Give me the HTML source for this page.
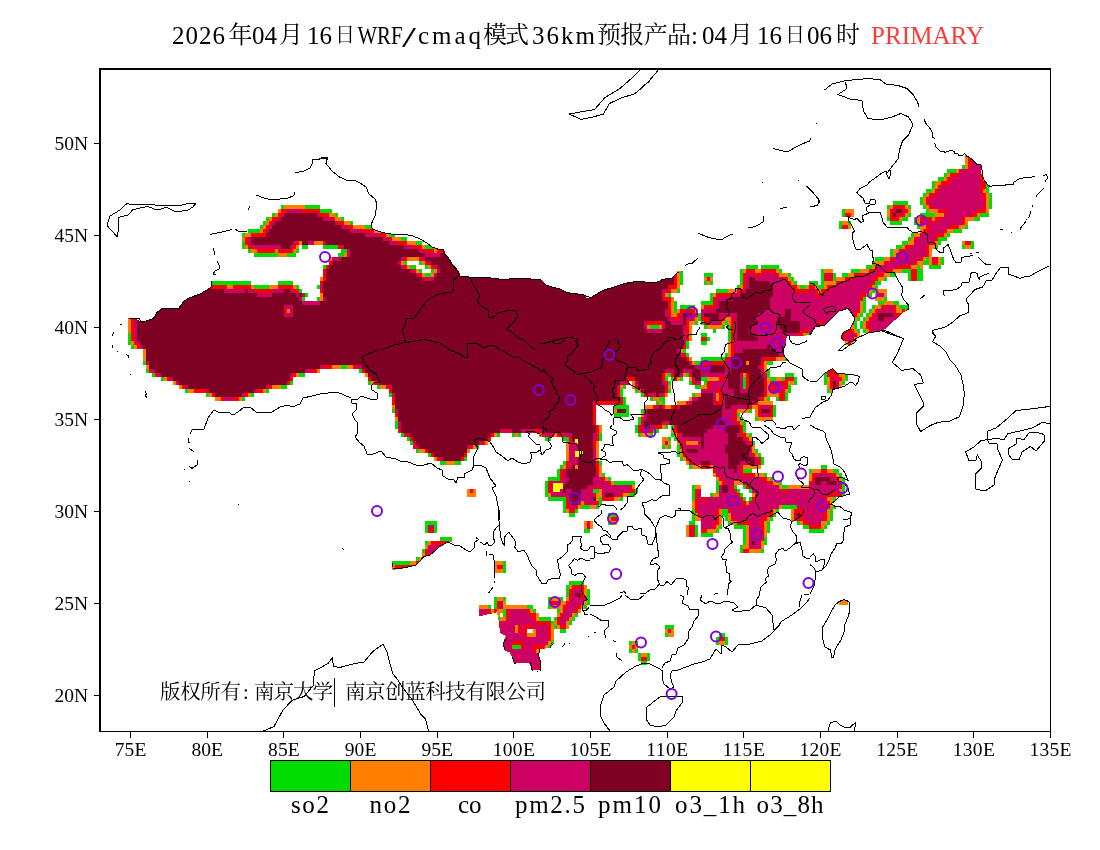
<!DOCTYPE html>
<html lang="zh"><head><meta charset="utf-8"><title>WRF/cmaq PRIMARY</title>
<style>
html,body{margin:0;padding:0;background:#fff;}
body{width:1100px;height:850px;overflow:hidden;}
svg{display:block;}
.lat,.cjk{font-family:"Liberation Serif","Noto Serif CJK SC",serif;}
</style></head><body>
<svg width="1100" height="850" viewBox="0 0 1100 850">
<rect width="1100" height="850" fill="#fff"/>
<defs>
<clipPath id="c0"><rect shape-rendering="crispEdges" x="590" y="255" width="110" height="85"/></clipPath>
<clipPath id="w0"><rect shape-rendering="crispEdges" x="586" y="251" width="118" height="93"/></clipPath>
<clipPath id="c1"><rect shape-rendering="crispEdges" x="590" y="340" width="110" height="85"/></clipPath>
<clipPath id="c2"><rect shape-rendering="crispEdges" x="590" y="425" width="110" height="85"/></clipPath>
<clipPath id="c3"><rect shape-rendering="crispEdges" x="590" y="510" width="110" height="85"/></clipPath>
<clipPath id="c4"><rect shape-rendering="crispEdges" x="700" y="255" width="110" height="85"/></clipPath>
<clipPath id="c5"><rect shape-rendering="crispEdges" x="700" y="340" width="110" height="85"/></clipPath>
<clipPath id="w5"><rect shape-rendering="crispEdges" x="696" y="336" width="118" height="93"/></clipPath>
<clipPath id="c6"><rect shape-rendering="crispEdges" x="700" y="425" width="110" height="85"/></clipPath>
<clipPath id="c7"><rect shape-rendering="crispEdges" x="700" y="510" width="110" height="85"/></clipPath>
<clipPath id="c8"><rect shape-rendering="crispEdges" x="810" y="170" width="110" height="85"/></clipPath>
<clipPath id="c9"><rect shape-rendering="crispEdges" x="810" y="255" width="110" height="85"/></clipPath>
<clipPath id="w9"><rect shape-rendering="crispEdges" x="806" y="251" width="118" height="93"/></clipPath>
<clipPath id="c10"><rect shape-rendering="crispEdges" x="810" y="340" width="110" height="85"/></clipPath>
<clipPath id="w10"><rect shape-rendering="crispEdges" x="806" y="336" width="118" height="93"/></clipPath>
<clipPath id="c11"><rect shape-rendering="crispEdges" x="810" y="425" width="110" height="85"/></clipPath>
<clipPath id="w11"><rect shape-rendering="crispEdges" x="806" y="421" width="118" height="93"/></clipPath>
<clipPath id="c12"><rect shape-rendering="crispEdges" x="810" y="510" width="110" height="85"/></clipPath>
<clipPath id="c13"><rect shape-rendering="crispEdges" x="920" y="85" width="110" height="85"/></clipPath>
<clipPath id="w13"><rect shape-rendering="crispEdges" x="916" y="81" width="118" height="93"/></clipPath>
<clipPath id="c14"><rect shape-rendering="crispEdges" x="920" y="170" width="110" height="85"/></clipPath>
<clipPath id="w14"><rect shape-rendering="crispEdges" x="916" y="166" width="118" height="93"/></clipPath>
<clipPath id="c15"><rect shape-rendering="crispEdges" x="920" y="255" width="110" height="85"/></clipPath>
<clipPath id="c16"><rect shape-rendering="crispEdges" x="320" y="60" width="330" height="255"/></clipPath>
<clipPath id="c17"><rect shape-rendering="crispEdges" x="640" y="60" width="330" height="255"/></clipPath>
<clipPath id="c18"><rect shape-rendering="crispEdges" x="370" y="520" width="110" height="170"/></clipPath>
<clipPath id="w18"><rect shape-rendering="crispEdges" x="366" y="516" width="118" height="178"/></clipPath>
<clipPath id="c19"><rect shape-rendering="crispEdges" x="590" y="595" width="220" height="170"/></clipPath>
<clipPath id="c20"><rect shape-rendering="crispEdges" x="100" y="180" width="220" height="170"/></clipPath>
<clipPath id="w20"><rect shape-rendering="crispEdges" x="96" y="176" width="228" height="178"/></clipPath>
<clipPath id="c21"><rect shape-rendering="crispEdges" x="320" y="180" width="220" height="170"/></clipPath>
<clipPath id="w21"><rect shape-rendering="crispEdges" x="316" y="176" width="228" height="178"/></clipPath>
<clipPath id="c22"><rect shape-rendering="crispEdges" x="540" y="180" width="50" height="170"/></clipPath>
<clipPath id="w22"><rect shape-rendering="crispEdges" x="536" y="176" width="58" height="178"/></clipPath>
<clipPath id="c23"><rect shape-rendering="crispEdges" x="100" y="350" width="220" height="170"/></clipPath>
<clipPath id="c24"><rect shape-rendering="crispEdges" x="320" y="350" width="220" height="170"/></clipPath>
<clipPath id="c25"><rect shape-rendering="crispEdges" x="540" y="340" width="50" height="85"/></clipPath>
<clipPath id="c26"><rect shape-rendering="crispEdges" x="540" y="425" width="50" height="85"/></clipPath>
<clipPath id="c27"><rect shape-rendering="crispEdges" x="480" y="510" width="110" height="85"/></clipPath>
<clipPath id="w27"><rect shape-rendering="crispEdges" x="476" y="506" width="118" height="93"/></clipPath>
<clipPath id="c28"><rect shape-rendering="crispEdges" x="480" y="595" width="110" height="85"/></clipPath>
<clipPath id="w28"><rect shape-rendering="crispEdges" x="476" y="591" width="118" height="93"/></clipPath>
<clipPath id="c29"><rect shape-rendering="crispEdges" x="100" y="500" width="330" height="255"/></clipPath>
<clipPath id="c30"><rect shape-rendering="crispEdges" x="780" y="570" width="220" height="170"/></clipPath>
<clipPath id="w30"><rect shape-rendering="crispEdges" x="776" y="566" width="228" height="178"/></clipPath>
<clipPath id="c31"><rect shape-rendering="crispEdges" x="880" y="330" width="220" height="170"/></clipPath>
<clipPath id="c32"><rect shape-rendering="crispEdges" x="760" y="60" width="300" height="230"/></clipPath>
<clipPath id="c33"><rect shape-rendering="crispEdges" x="300" y="238" width="52" height="68"/></clipPath>
<clipPath id="c34"><rect shape-rendering="crispEdges" x="540" y="441" width="100" height="86"/></clipPath>
<clipPath id="frame"><rect x="101" y="70" width="949" height="661"/></clipPath>
</defs>
<g clip-path="url(#frame)">
<filter id="pix" filterUnits="userSpaceOnUse" x="0" y="0" width="1100" height="850" color-interpolation-filters="sRGB"><feFlood x="3" y="2" width="1" height="1" flood-color="#000"/><feComposite in2="SourceGraphic" operator="over" x="2" y="1" width="3" height="4"/><feTile result="grid"/><feComposite in="SourceGraphic" in2="grid" operator="in"/><feMorphology operator="dilate" radius="1" result="d"/><feOffset in="d" dy="1" result="e"/><feMerge><feMergeNode in="e"/><feMergeNode in="d"/></feMerge></filter>
<g filter="url(#pix)" shape-rendering="crispEdges" stroke-linejoin="round">
<g stroke="#00dc00" fill="none">
<path clip-path="url(#c0)" d="M560.0,295.0 630.0,265.0 673.0,265.0 673.0,284.0 667.0,284.0 667.0,287.0 664.0,290.0 662.0,290.5 660.5,293.0 660.5,298.0 662.5,301.5 667.0,302.0 667.0,308.0 665.0,309.0 665.0,315.0 667.0,318.5 672.0,319.5 672.5,324.0 681.5,324.5 682.5,316.0 685.0,313.5 691.0,314.0 692.0,316.0 686.0,319.0 684.2,325.0 684.2,337.0 686.0,370.0 560.0,370.0Z" stroke-width="18.0"/>
<path clip-path="url(#c0)" d="M647.0,319.5 662.0,319.5 664.5,322.0 664.5,327.5 662.0,330.5 647.5,330.5 645.0,327.5 645.0,322.0Z" stroke-width="11.7"/>
<path clip-path="url(#c1)" d="M560.0,310.0 730.0,310.0 730.0,455.0 560.0,455.0ZM618.5,383.0 625.0,381.5 625.5,376.5 634.5,376.0 636.5,380.0 637.0,385.0 642.0,388.0 646.0,392.0 654.0,394.0 656.0,396.0 659.0,394.0 662.0,394.0 664.0,391.0 666.0,388.0 665.0,384.0 662.0,383.0 662.0,374.0 665.0,370.0 673.0,370.0 675.0,374.0 676.0,376.0 680.0,374.0 684.0,370.0 692.0,370.0 693.0,373.0 694.0,379.0 697.0,382.0 730.0,381.0 730.0,396.0 698.0,398.0 693.0,400.0 690.0,405.0 680.0,406.0 677.0,409.0 666.0,410.0 660.0,406.0 656.0,409.0 647.0,410.0 646.0,418.0 644.0,421.0 640.0,455.0 592.0,455.0 592.0,403.0 596.0,400.0 620.0,400.0 617.0,396.0 617.0,388.0ZM684.5,310.0 683.0,346.0 679.0,347.5 678.0,352.0 682.0,355.0 685.0,358.0 688.0,361.5 691.0,365.0 695.0,367.0 730.0,368.0 730.0,310.0ZM662.5,420.0 669.5,420.0 670.0,455.0 662.0,455.0Z" stroke-width="10.8"/>
<path clip-path="url(#c1)" d="M616.0,408.0 626.0,408.0 626.0,412.5 616.0,412.5Z" stroke-width="5.8"/>
<path clip-path="url(#c2)" d="M560.0,395.0 595.0,395.0 594.5,433.0 594.0,442.0 560.0,443.0ZM560.0,459.5 596.0,459.5 596.0,475.0 594.0,477.0 560.0,477.0ZM605.0,492.2 615.0,492.2 615.0,494.8 605.0,494.8ZM642.0,395.0 650.0,395.0 649.0,429.0 643.0,429.5ZM680.0,395.0 730.0,395.0 730.0,435.0 690.0,436.0 682.0,435.0 678.0,430.0ZM687.0,448.2 697.0,448.2 697.0,453.0 687.0,453.0Z" stroke-width="14.4"/>
<path clip-path="url(#c2)" d="M592.0,495.0 595.0,495.0 595.0,501.0 592.0,501.0Z" stroke-width="10.1"/>
<path clip-path="url(#c2)" d="M560.0,395.0 598.0,395.0 597.0,431.0 595.0,443.0 560.0,443.5ZM560.0,459.0 596.0,459.0 596.5,474.0 603.0,479.0 610.0,484.0 620.0,485.0 630.0,486.0 631.0,490.0 620.0,493.0 615.0,495.5 604.0,495.5 602.0,485.0 592.0,484.0 560.0,484.0ZM560.0,494.0 595.0,494.0 595.5,502.0 560.0,503.0ZM678.0,395.0 730.0,395.0 730.0,465.0 696.0,464.5 689.0,459.0 684.0,454.0 683.0,447.0 680.0,438.0ZM697.5,489.0 730.0,489.0 730.0,540.0 697.0,540.0Z" stroke-width="11.2"/>
<path clip-path="url(#c2)" d="M665.5,440.0 667.0,440.0 667.0,444.0 665.5,444.0Z" stroke-width="7.8"/>
<path clip-path="url(#c2)" d="M684.0,440.0 698.5,440.0 698.5,444.5 684.0,444.5Z" stroke-width="7.3"/>
<path clip-path="url(#c2)" d="M640.0,395.0 664.0,395.0 664.0,426.0 652.0,428.0 646.0,432.0 641.0,431.0Z" stroke-width="7.7"/>
<path clip-path="url(#c3)" d="M696.0,480.0 730.0,480.0 730.0,516.0 699.0,515.0Z" stroke-width="14.0"/>
<path clip-path="url(#c3)" d="M690.0,527.0 693.0,527.0 693.0,533.0 690.0,533.0Z" stroke-width="9.8"/>
<path clip-path="url(#c3)" d="M611.0,516.0 615.0,516.0 615.0,521.0 611.0,521.0Z" stroke-width="6.7"/>
<path clip-path="url(#c3)" d="M587.0,521.0 592.0,521.0 592.0,528.0 587.0,528.0Z" stroke-width="3.4"/>
<path clip-path="url(#c4)" d="M704.5,311.0 717.0,311.0 717.5,308.0 719.0,305.0 719.0,299.0 730.0,299.0 731.0,296.5 740.0,296.0 742.0,293.0 747.0,292.5 749.0,284.0 749.0,275.0 754.0,275.0 756.0,279.0 771.0,281.0 771.5,285.0 774.0,288.0 774.0,295.0 771.0,296.0 771.0,307.0 769.0,308.0 765.0,309.5 762.0,313.0 756.0,316.0 754.5,319.0 758.0,322.0 754.5,325.0 751.0,327.0 750.0,331.0 752.0,334.0 756.0,335.0 758.0,337.0 759.0,340.0 759.0,370.0 737.0,370.0 737.0,323.0 736.0,320.0 737.0,316.0 737.0,314.0 734.0,313.0 730.0,312.5 722.0,312.5 720.0,315.0 719.0,319.0 717.0,321.5 712.0,321.5 709.5,320.0 708.5,317.0 704.5,315.0ZM786.0,308.0 789.0,308.0 791.0,311.0 791.0,319.0 796.0,322.0 801.0,323.0 801.0,329.0 798.0,331.0 794.0,334.0 790.0,335.0 787.0,332.0 783.0,331.0 781.0,327.0 777.0,324.0 777.5,319.0 780.0,316.0 784.0,315.0 784.5,311.0Z" stroke-width="18.0"/>
<path clip-path="url(#c4)" d="M749.0,275.0 762.0,274.5 764.0,272.0 774.0,272.0 776.0,275.0 779.0,277.5 786.0,278.0 788.0,281.0 790.0,285.0 794.0,288.0 796.0,292.5 807.0,293.0 810.0,290.0 840.0,290.0 840.0,328.0 805.0,328.5 801.0,331.0 799.0,334.0 794.0,335.0 792.0,340.0 792.0,370.0 750.0,370.0 750.0,295.0 749.0,285.0Z" stroke-width="14.0"/>
<path clip-path="url(#c4)" d="M707.8,278.3 709.2,278.3 709.2,279.7 707.8,279.7ZM703.0,338.5 704.4,338.5 704.4,339.9 703.0,339.9Z" stroke-width="9.8"/>
<path clip-path="url(#c5)" d="M744.0,350.0 748.0,346.0 752.0,350.0 762.0,350.0 770.0,345.0 772.0,349.0 785.0,353.0 770.0,356.0 765.0,356.0 760.0,358.0 759.0,368.0 762.0,373.0 764.0,380.0 763.0,385.0 764.0,393.0 761.0,397.0 756.0,400.0 750.0,404.0 747.0,405.0 734.0,406.0 724.0,408.0 724.0,396.0 726.0,394.0 734.0,396.0 734.0,388.0 727.0,388.0 728.0,375.0 730.0,370.0 730.0,360.0 735.0,356.0 735.0,352.0 744.0,354.0ZM710.0,365.0 724.0,365.0 725.0,370.0 720.0,372.5 710.0,372.5ZM670.0,394.0 713.0,394.0 713.5,404.0 721.5,406.0 721.5,410.0 723.0,412.0 724.0,425.0 724.0,455.0 670.0,455.0Z" stroke-width="14.4"/>
<path clip-path="url(#c5)" d="M761.5,409.0 766.0,409.0 766.5,406.5 769.0,406.5 769.0,414.0 761.5,414.0Z" stroke-width="10.1"/>
<path clip-path="url(#c5)" d="M740.5,371.0 749.5,371.0 749.5,390.5 740.5,390.5ZM744.5,358.5 750.0,358.5 750.0,366.0 744.5,366.0Z" stroke-width="9.4"/>
<path clip-path="url(#c5)" d="M733.0,310.0 788.0,310.0 787.0,346.0 785.0,354.0 770.0,356.5 766.0,356.0 764.0,360.0 762.0,363.0 763.0,370.0 764.0,373.0 765.0,380.0 764.0,385.0 765.0,393.0 762.0,397.0 756.0,400.0 750.0,404.0 747.0,406.0 735.0,406.5 734.0,410.0 734.0,416.0 736.0,420.0 740.0,425.0 742.0,455.0 670.0,455.0 670.0,364.0 724.0,364.0 729.0,360.0 730.0,357.0 733.0,355.0ZM670.0,375.0 706.0,374.5 710.0,375.5 726.0,376.0 726.5,379.0 725.0,380.0 710.0,381.0 709.5,388.0 706.0,390.0 670.0,390.0ZM715.0,390.0 721.5,390.0 721.5,403.0 715.0,403.0ZM772.0,383.0 779.0,382.0 785.0,383.0 785.0,388.0 780.0,392.0 774.0,392.0 772.0,388.0ZM760.0,406.0 770.0,406.0 770.0,415.0 760.0,415.0Z" stroke-width="11.2"/>
<path clip-path="url(#c5)" d="M740.5,371.0 749.5,371.0 749.5,390.5 740.5,390.5ZM744.5,358.5 750.0,358.5 750.0,366.0 744.5,366.0Z" stroke-width="7.3"/>
<path clip-path="url(#c5)" d="M786.0,377.0 794.0,377.0 794.0,382.0 786.0,382.0ZM779.0,394.0 785.0,394.0 785.0,399.0 779.0,399.0ZM702.0,337.0 706.0,337.0 706.0,341.0 702.0,341.0Z" stroke-width="5.4"/>
<path clip-path="url(#c5)" d="M762.0,374.0 768.0,374.0 768.0,384.0 762.0,384.0Z" stroke-width="3.8"/>
<path clip-path="url(#c6)" d="M670.0,395.0 713.0,395.0 713.0,428.0 706.0,431.0 704.0,438.0 703.5,447.0 702.0,447.0 701.5,435.0 670.0,435.0ZM724.0,395.0 739.0,395.0 738.5,435.0 745.0,439.0 748.0,445.0 749.0,454.0 752.0,456.0 756.0,460.0 756.0,462.5 750.0,462.5 740.0,460.0 738.0,465.0 737.0,474.0 734.0,474.0 733.0,469.0 727.0,467.0 727.0,461.0 729.0,459.0 729.0,453.0 724.0,452.0 724.0,445.0 727.0,443.0 727.0,435.0 724.0,431.0ZM670.0,460.2 709.0,460.2 709.0,462.8 670.0,462.8Z" stroke-width="14.4"/>
<path clip-path="url(#c6)" d="M722.0,486.0 728.5,485.0 729.0,491.0 724.0,492.0 723.5,494.0 722.0,494.0Z" stroke-width="10.1"/>
<path clip-path="url(#c6)" d="M670.0,395.0 740.0,395.0 739.5,435.0 747.0,439.0 750.0,445.0 751.0,455.0 757.0,459.0 758.0,463.0 754.0,464.0 742.0,463.5 740.0,465.0 740.0,473.0 742.0,475.0 760.0,477.0 766.0,481.0 770.0,484.0 777.0,485.0 779.0,489.0 785.0,493.0 790.0,490.0 792.0,489.0 800.0,489.0 840.0,488.0 840.0,540.0 670.0,540.0Z" stroke-width="11.2"/>
<path clip-path="url(#c6)" d="M670.0,464.0 714.0,464.0 715.0,469.0 718.0,477.0 724.0,479.0 725.0,483.0 720.0,485.0 720.0,494.0 718.0,496.0 706.0,499.0 670.0,499.0ZM733.0,481.0 742.0,481.0 747.0,485.0 753.0,489.0 755.0,495.0 754.0,499.0 748.0,504.0 744.0,503.0 740.0,497.0 735.0,491.0 732.0,487.0ZM779.0,503.0 798.0,503.0 799.0,510.0 799.0,540.0 778.0,540.0Z" stroke-width="7.3"/>
<path clip-path="url(#c7)" d="M751.0,540.0 754.0,540.0 754.0,543.0 759.0,543.0 759.0,545.8 751.0,545.8ZM796.2,513.0 798.8,513.0 798.8,515.5 796.2,515.5Z" stroke-width="12.6"/>
<path clip-path="url(#c7)" d="M670.0,480.0 717.0,480.0 716.5,520.0 714.0,525.0 710.0,528.0 700.0,528.5 670.0,528.5ZM729.0,480.0 776.0,480.0 770.0,513.0 762.0,518.0 762.0,527.0 761.5,534.0 760.0,540.0 759.0,543.0 751.0,543.0 750.5,535.0 750.0,525.0 748.0,521.0 735.0,520.0 732.0,515.0ZM802.0,480.0 840.0,480.0 840.0,522.0 806.0,521.0 802.0,516.0Z" stroke-width="14.0"/>
<path clip-path="url(#c7)" d="M744.0,546.5 749.0,546.5 749.0,551.0 744.0,551.0ZM794.0,508.0 800.0,508.0 800.0,516.0 794.0,516.0Z" stroke-width="6.7"/>
<path clip-path="url(#c8)" d="M896.5,209.3 902.5,209.3 902.5,211.5 896.5,211.5ZM893.3,212.3 895.8,212.3 895.8,214.7 893.3,214.7Z" stroke-width="12.6"/>
<path clip-path="url(#c8)" d="M893.0,209.5 896.0,208.5 904.0,208.5 905.0,212.0 898.0,213.0 897.0,216.5 893.0,217.0ZM950.0,238.0 916.0,238.5 915.0,244.0 910.0,247.0 906.0,249.0 903.0,251.0 898.0,253.0 895.0,285.0 950.0,285.0Z" stroke-width="14.0"/>
<path clip-path="url(#c8)" d="M918.5,219.0 924.0,219.0 924.0,224.0 918.5,224.0ZM846.0,212.0 852.0,212.0 852.0,215.0 846.0,215.0ZM843.0,224.0 848.5,224.0 848.5,227.0 843.0,227.0Z" stroke-width="6.7"/>
<path clip-path="url(#c9)" d="M879.0,313.0 888.0,312.5 889.0,308.5 891.0,308.5 891.5,312.0 893.0,313.0 893.0,315.0 889.0,316.0 885.0,317.0 884.0,321.0 879.0,321.5 878.0,317.0Z" stroke-width="18.0"/>
<path clip-path="url(#c9)" d="M780.0,288.0 814.0,288.0 814.5,295.0 821.0,296.0 823.0,292.0 830.0,288.0 836.0,285.0 840.0,282.0 850.0,280.0 853.0,277.0 860.0,276.5 864.0,274.0 872.0,272.0 875.0,269.0 878.0,265.0 882.0,266.0 886.0,263.0 892.0,261.0 893.0,257.0 896.0,225.0 950.0,225.0 950.0,259.0 914.0,260.0 913.0,264.0 900.0,265.0 898.0,267.0 890.0,268.5 886.0,271.0 884.0,272.0 880.0,273.0 879.0,276.0 874.0,277.0 872.0,279.0 871.0,284.0 869.0,288.0 866.0,291.0 862.0,293.5 860.0,295.0 859.0,299.0 859.0,307.0 857.5,311.5 854.5,315.0 852.0,319.0 848.0,325.0 840.0,335.0 780.0,370.0ZM874.0,315.0 878.0,311.0 880.0,309.0 893.0,308.0 895.0,312.0 897.0,315.5 901.0,314.5 904.0,312.0 910.0,335.0 880.0,335.0 870.0,329.5 867.0,325.0 870.0,320.0ZM845.0,332.0 852.0,331.0 854.0,335.0 852.0,340.0 845.0,340.0 844.0,336.0Z" stroke-width="14.0"/>
<path clip-path="url(#c9)" d="M816.5,318.5 823.5,318.5 823.5,324.0 816.5,324.0ZM826.5,273.0 830.0,273.0 830.0,280.5 826.5,280.5ZM913.0,272.0 915.0,272.0 915.0,277.0 913.0,277.0ZM879.0,293.0 883.0,293.0 883.0,296.0 879.0,296.0Z" stroke-width="9.8"/>
<path clip-path="url(#c9)" d="M866.0,324.0 869.0,319.0 873.0,315.0 874.0,319.0 870.0,325.0 868.0,328.0Z" stroke-width="9.6"/>
<path clip-path="url(#c10)" d="M833.5,379.5 836.5,379.5 836.5,387.5 833.5,387.5Z" stroke-width="12.6"/>
<path clip-path="url(#c10)" d="M829.0,371.0 833.5,371.0 833.5,375.0 829.0,375.0Z" stroke-width="9.8"/>
<path clip-path="url(#c10)" d="M830.0,373.0 835.0,373.0 843.0,376.0 843.0,379.0 838.5,379.5 838.0,388.0 831.0,388.0 830.0,380.0Z" stroke-width="9.6"/>
<path clip-path="url(#c10)" d="M847.0,337.0 853.0,337.0 852.0,343.0 848.0,343.0Z" stroke-width="6.7"/>
<path clip-path="url(#c11)" d="M816.0,477.0 824.0,475.0 830.0,477.0 832.0,481.0 836.0,483.0 836.0,486.0 826.0,486.0 826.0,481.0 821.0,480.0 821.0,483.0 816.0,483.0Z" stroke-width="18.0"/>
<path clip-path="url(#c11)" d="M780.0,484.0 810.0,483.0 814.0,481.0 814.5,475.0 833.0,475.0 836.0,481.0 837.0,489.0 833.0,493.0 829.0,495.0 825.0,498.0 825.0,502.0 827.5,505.0 829.0,510.0 829.0,540.0 780.0,540.0Z" stroke-width="14.0"/>
<path clip-path="url(#c11)" d="M835.5,492.5 840.5,492.5 840.5,494.5 835.5,494.5Z" stroke-width="6.7"/>
<path clip-path="url(#c12)" d="M780.0,480.0 826.0,480.0 825.0,518.0 820.0,521.0 819.0,525.0 780.0,525.0Z" stroke-width="14.0"/>
<path clip-path="url(#c13)" d="M971.0,159.0 990.0,159.0 990.0,200.0 961.0,200.0 970.0,168.0Z" stroke-width="14.0"/>
<path clip-path="url(#c14)" d="M980.5,182.5 982.5,182.5 982.5,184.5 980.5,184.5ZM928.0,221.5 929.8,221.5 929.8,223.3 928.0,223.3Z" stroke-width="12.6"/>
<path clip-path="url(#c14)" d="M980.0,140.0 980.0,181.0 981.0,185.0 981.0,194.0 984.0,195.0 985.0,203.0 983.5,209.0 976.0,210.0 974.0,214.0 964.0,216.0 963.0,220.0 960.0,224.0 953.0,225.0 945.0,228.0 944.0,232.0 935.0,234.0 934.0,240.0 932.0,242.0 926.0,246.0 925.0,285.0 890.0,285.0 890.0,235.0 922.0,234.0 929.0,230.0 930.0,224.5 934.0,223.0 938.0,219.0 945.0,217.0 946.0,210.0 943.0,209.0 930.0,206.0 928.0,200.0 931.0,196.0 937.0,194.0 939.0,189.0 940.0,185.0 949.0,183.0 950.0,177.0 960.0,175.0 960.0,140.0ZM918.0,220.0 928.0,220.5 928.0,223.5 918.0,224.0Z" stroke-width="14.0"/>
<path clip-path="url(#c14)" d="M965.0,242.2 970.0,242.2 970.5,246.0 967.0,247.0 965.0,245.0Z" stroke-width="6.7"/>
<path clip-path="url(#c15)" d="M916.0,251.0 921.0,251.0 921.0,259.0 918.0,261.0 916.0,275.0Z" stroke-width="14.0"/>
<path clip-path="url(#c15)" d="M933.2,257.0 935.0,257.0 935.0,259.0 933.2,259.0Z" stroke-width="9.8"/>
<path clip-path="url(#c15)" d="M930.5,253.0 938.0,253.0 938.0,262.5 930.5,262.5Z" stroke-width="9.6"/>
<path clip-path="url(#c18)" d="M430.0,544.4 448.0,542.4 440.0,548.0 430.0,554.0 426.4,555.0Z" stroke-width="9.8"/>
<path clip-path="url(#c18)" d="M429.0,525.0 433.0,525.0 433.0,530.0 429.0,530.0Z" stroke-width="6.9"/>
<path clip-path="url(#c18)" d="M394.0,565.0 414.0,564.0 420.0,560.0 426.0,554.0 428.0,546.0 430.0,554.0 420.0,563.0 410.0,568.0 394.0,569.0Z" stroke-width="6.7"/>
<path clip-path="url(#c19)" d="M668.0,629.0 672.0,629.0 672.0,633.0 668.0,633.0ZM632.0,644.0 635.0,644.0 635.0,649.0 632.0,649.0ZM642.4,656.0 645.6,656.0 645.6,660.0 642.4,660.0ZM720.0,637.4 724.4,637.4 724.4,642.0 720.0,642.0Z" stroke-width="6.7"/>
<path clip-path="url(#c20)" d="M250.0,240.0 253.0,238.0 266.0,237.6 269.0,230.0 274.0,223.0 281.0,220.0 286.0,213.0 300.0,212.0 304.0,214.4 380.0,215.0 380.0,242.0 320.0,241.0 312.0,242.0 304.0,242.0 300.0,240.0 295.0,240.0 291.0,247.0 282.0,248.4 278.0,244.4 272.0,246.0 258.0,246.0 252.0,243.4ZM208.0,290.4 224.0,290.0 228.0,292.0 236.0,291.0 248.0,290.4 252.0,293.0 258.0,295.0 270.0,295.0 274.0,292.0 288.0,290.0 292.0,292.0 295.0,295.0 302.0,295.0 304.4,298.0 303.0,302.0 314.0,302.4 319.0,299.0 318.4,284.0 320.0,274.0 380.0,270.0 380.0,410.0 143.0,410.0 143.0,350.0 140.0,342.0 137.0,340.0 136.0,324.0 137.0,310.0 160.0,292.0 196.0,280.0Z" stroke-width="18.0"/>
<path clip-path="url(#c20)" d="M283.0,305.0 293.0,305.0 293.0,315.0 283.0,315.0Z" stroke-width="11.7"/>
<path clip-path="url(#c21)" d="M260.0,217.0 320.0,218.0 328.0,219.0 338.0,225.0 350.0,231.0 360.0,232.4 368.0,235.0 378.0,235.6 386.0,240.0 392.0,244.0 402.0,246.0 408.0,248.0 420.0,251.0 426.0,255.0 440.0,255.6 450.0,246.0 600.0,260.0 600.0,410.0 260.0,410.0 260.0,303.0 320.0,303.0 325.0,300.0 326.0,292.0 326.0,280.0 327.0,266.0 330.0,260.4 334.0,259.4 342.0,259.4 348.0,256.4 349.4,250.0 346.0,247.0 340.0,244.0 332.0,242.0 324.0,240.0 260.0,240.0Z" stroke-width="18.0"/>
<path clip-path="url(#c21)" d="M397.0,261.0 404.0,255.6 420.0,254.8 424.0,258.0 430.0,262.0 436.0,266.0 440.0,270.0 437.0,275.0 433.0,279.0 426.0,281.0 420.0,277.0 414.0,272.4 406.0,269.4 400.0,265.0Z" stroke-width="11.7"/>
<path clip-path="url(#c22)" d="M480.0,260.0 820.0,260.0 820.0,410.0 480.0,410.0Z" stroke-width="18.0"/>
<path clip-path="url(#c23)" d="M145.0,290.0 147.0,358.0 151.0,369.0 158.0,373.0 166.0,376.0 174.0,379.0 180.0,383.0 188.0,387.0 196.0,389.0 204.0,389.0 212.0,392.0 218.0,396.0 228.0,398.0 238.0,397.0 246.0,393.0 256.0,390.0 266.0,387.0 274.0,384.0 286.0,383.0 290.0,379.0 290.0,374.0 298.0,371.0 310.0,370.0 320.0,367.0 380.0,367.0 380.0,290.0Z" stroke-width="8.1"/>
<path clip-path="url(#c24)" d="M260.0,367.0 320.0,366.0 334.0,364.0 346.0,363.0 360.0,366.0 368.0,372.0 372.0,380.0 380.0,383.0 390.0,385.0 394.0,394.0 396.0,406.0 399.0,418.0 401.0,430.0 408.0,434.0 414.0,438.0 416.0,446.0 426.0,449.0 432.0,452.0 440.0,458.0 448.0,460.0 460.0,459.0 464.0,454.0 468.0,446.0 478.0,443.0 486.0,440.0 492.0,432.0 508.0,429.0 516.0,432.0 522.0,430.0 540.0,429.0 600.0,429.0 600.0,290.0 260.0,290.0Z" stroke-width="8.1"/>
<path clip-path="url(#c24)" d="M469.0,489.0 474.0,489.0 474.0,494.0 469.0,494.0Z" stroke-width="3.0"/>
<path clip-path="url(#c25)" d="M450.0,310.0 620.0,310.0 620.0,455.0 450.0,455.0Z" stroke-width="18.0"/>
<path clip-path="url(#c26)" d="M540.0,429.5 544.0,432.0 548.0,434.0 552.0,433.0 556.0,431.0 563.0,433.0 570.0,433.5 572.5,436.0 572.5,445.0 573.0,453.0 570.0,455.0 568.0,459.0 568.0,465.0 565.0,469.0 563.0,472.0 564.0,475.0 568.0,476.0 568.0,479.0 564.0,481.0 563.5,489.0 568.0,490.0 569.0,495.0 569.0,510.0 569.0,540.0 620.0,540.0 620.0,395.0 540.0,395.0Z" stroke-width="10.8"/>
<path clip-path="url(#c26)" d="M573.5,462.5 578.5,462.5 578.5,469.5 573.5,469.5Z" stroke-width="7.0"/>
<path clip-path="url(#c26)" d="M550.0,479.8 566.0,479.8 566.0,495.0 550.0,495.0Z" stroke-width="8.4"/>
<path clip-path="url(#c27)" d="M575.0,591.0 580.0,591.0 580.0,625.0 575.0,625.0Z" stroke-width="18.0"/>
<path clip-path="url(#c27)" d="M573.5,588.0 581.0,588.0 581.0,625.0 573.5,625.0Z" stroke-width="14.0"/>
<path clip-path="url(#c27)" d="M587.5,522.5 592.0,522.5 592.0,528.0 587.5,528.0ZM496.0,564.0 501.5,564.0 501.5,569.5 496.0,569.5Z" stroke-width="6.7"/>
<path clip-path="url(#c27)" d="M569.5,507.0 574.5,507.0 574.5,511.5 569.5,511.5Z" stroke-width="3.4"/>
<path clip-path="url(#c28)" d="M575.0,565.0 578.5,565.0 578.5,597.0 575.0,597.0Z" stroke-width="14.4"/>
<path clip-path="url(#c28)" d="M509.0,609.5 523.0,609.5 528.0,610.5 529.0,614.5 534.0,615.5 535.0,622.5 540.0,624.2 548.0,623.5 549.0,628.0 549.0,638.0 547.0,642.0 544.0,645.0 536.0,645.0 532.0,647.5 534.5,651.0 538.0,655.0 540.0,660.0 541.0,670.0 532.0,669.5 529.0,663.0 514.5,663.0 512.0,657.0 510.0,652.5 505.0,651.0 503.5,647.0 504.0,640.0 506.0,636.0 500.0,633.0 499.0,622.5 509.0,621.5ZM572.0,565.0 584.0,565.0 584.0,601.0 580.0,605.0 575.0,610.0 570.0,615.0 566.0,621.0 564.0,625.0 560.0,625.0 559.0,621.0 562.0,615.0 565.0,607.0 570.0,601.0ZM450.0,607.0 486.0,609.0 491.0,613.5 496.5,612.0 450.0,623.0Z" stroke-width="11.2"/>
<path clip-path="url(#c28)" d="M498.5,600.0 502.0,600.0 502.0,609.0 498.5,609.0ZM552.5,600.5 559.0,600.5 559.0,605.0 552.5,605.0Z" stroke-width="7.8"/>
<path clip-path="url(#c28)" d="M514.0,625.0 519.5,625.0 519.5,632.0 514.0,632.0ZM525.0,625.0 534.0,626.0 537.5,631.0 537.0,636.5 526.0,636.5 524.5,631.0ZM510.5,641.5 522.5,641.5 522.5,649.5 510.5,649.5Z" stroke-width="7.3"/>
<path clip-path="url(#c30)" d="M842.0,600.0 845.6,600.0 845.6,602.0 842.0,602.0Z" stroke-width="6.7"/>
</g>
<g stroke="#ff7e00" fill="none">
<path clip-path="url(#c0)" d="M560.0,295.0 630.0,265.0 673.0,265.0 673.0,284.0 667.0,284.0 667.0,287.0 664.0,290.0 662.0,290.5 660.5,293.0 660.5,298.0 662.5,301.5 667.0,302.0 667.0,308.0 665.0,309.0 665.0,315.0 667.0,318.5 672.0,319.5 672.5,324.0 681.5,324.5 682.5,316.0 685.0,313.5 691.0,314.0 692.0,316.0 686.0,319.0 684.2,325.0 684.2,337.0 686.0,370.0 560.0,370.0Z" stroke-width="14.0"/>
<path clip-path="url(#c0)" d="M647.0,319.5 662.0,319.5 664.5,322.0 664.5,327.5 662.0,330.5 647.5,330.5 645.0,327.5 645.0,322.0Z" stroke-width="9.1"/>
<path clip-path="url(#c1)" d="M560.0,310.0 730.0,310.0 730.0,455.0 560.0,455.0ZM618.5,383.0 625.0,381.5 625.5,376.5 634.5,376.0 636.5,380.0 637.0,385.0 642.0,388.0 646.0,392.0 654.0,394.0 656.0,396.0 659.0,394.0 662.0,394.0 664.0,391.0 666.0,388.0 665.0,384.0 662.0,383.0 662.0,374.0 665.0,370.0 673.0,370.0 675.0,374.0 676.0,376.0 680.0,374.0 684.0,370.0 692.0,370.0 693.0,373.0 694.0,379.0 697.0,382.0 730.0,381.0 730.0,396.0 698.0,398.0 693.0,400.0 690.0,405.0 680.0,406.0 677.0,409.0 666.0,410.0 660.0,406.0 656.0,409.0 647.0,410.0 646.0,418.0 644.0,421.0 640.0,455.0 592.0,455.0 592.0,403.0 596.0,400.0 620.0,400.0 617.0,396.0 617.0,388.0ZM684.5,310.0 683.0,346.0 679.0,347.5 678.0,352.0 682.0,355.0 685.0,358.0 688.0,361.5 691.0,365.0 695.0,367.0 730.0,368.0 730.0,310.0ZM662.5,420.0 669.5,420.0 670.0,455.0 662.0,455.0Z" stroke-width="8.4"/>
<path clip-path="url(#c1)" d="M616.0,408.0 626.0,408.0 626.0,412.5 616.0,412.5Z" stroke-width="2.9"/>
<path clip-path="url(#c2)" d="M560.0,395.0 595.0,395.0 594.5,433.0 594.0,442.0 560.0,443.0ZM560.0,459.5 596.0,459.5 596.0,475.0 594.0,477.0 560.0,477.0ZM605.0,492.2 615.0,492.2 615.0,494.8 605.0,494.8ZM642.0,395.0 650.0,395.0 649.0,429.0 643.0,429.5ZM680.0,395.0 730.0,395.0 730.0,435.0 690.0,436.0 682.0,435.0 678.0,430.0ZM687.0,448.2 697.0,448.2 697.0,453.0 687.0,453.0Z" stroke-width="11.2"/>
<path clip-path="url(#c2)" d="M592.0,495.0 595.0,495.0 595.0,501.0 592.0,501.0Z" stroke-width="7.8"/>
<path clip-path="url(#c2)" d="M560.0,395.0 598.0,395.0 597.0,431.0 595.0,443.0 560.0,443.5ZM560.0,459.0 596.0,459.0 596.5,474.0 603.0,479.0 610.0,484.0 620.0,485.0 630.0,486.0 631.0,490.0 620.0,493.0 615.0,495.5 604.0,495.5 602.0,485.0 592.0,484.0 560.0,484.0ZM560.0,494.0 595.0,494.0 595.5,502.0 560.0,503.0ZM678.0,395.0 730.0,395.0 730.0,465.0 696.0,464.5 689.0,459.0 684.0,454.0 683.0,447.0 680.0,438.0ZM697.5,489.0 730.0,489.0 730.0,540.0 697.0,540.0Z" stroke-width="7.7"/>
<path clip-path="url(#c2)" d="M665.5,440.0 667.0,440.0 667.0,444.0 665.5,444.0Z" stroke-width="5.4"/>
<path clip-path="url(#c2)" d="M684.0,440.0 698.5,440.0 698.5,444.5 684.0,444.5Z" stroke-width="5.0"/>
<path clip-path="url(#c2)" d="M640.0,395.0 664.0,395.0 664.0,426.0 652.0,428.0 646.0,432.0 641.0,431.0Z" stroke-width="3.8"/>
<path clip-path="url(#c3)" d="M696.0,480.0 730.0,480.0 730.0,516.0 699.0,515.0Z" stroke-width="9.6"/>
<path clip-path="url(#c3)" d="M690.0,527.0 693.0,527.0 693.0,533.0 690.0,533.0Z" stroke-width="6.7"/>
<path clip-path="url(#c3)" d="M611.0,516.0 615.0,516.0 615.0,521.0 611.0,521.0Z" stroke-width="3.4"/>
<path clip-path="url(#c4)" d="M704.5,311.0 717.0,311.0 717.5,308.0 719.0,305.0 719.0,299.0 730.0,299.0 731.0,296.5 740.0,296.0 742.0,293.0 747.0,292.5 749.0,284.0 749.0,275.0 754.0,275.0 756.0,279.0 771.0,281.0 771.5,285.0 774.0,288.0 774.0,295.0 771.0,296.0 771.0,307.0 769.0,308.0 765.0,309.5 762.0,313.0 756.0,316.0 754.5,319.0 758.0,322.0 754.5,325.0 751.0,327.0 750.0,331.0 752.0,334.0 756.0,335.0 758.0,337.0 759.0,340.0 759.0,370.0 737.0,370.0 737.0,323.0 736.0,320.0 737.0,316.0 737.0,314.0 734.0,313.0 730.0,312.5 722.0,312.5 720.0,315.0 719.0,319.0 717.0,321.5 712.0,321.5 709.5,320.0 708.5,317.0 704.5,315.0ZM786.0,308.0 789.0,308.0 791.0,311.0 791.0,319.0 796.0,322.0 801.0,323.0 801.0,329.0 798.0,331.0 794.0,334.0 790.0,335.0 787.0,332.0 783.0,331.0 781.0,327.0 777.0,324.0 777.5,319.0 780.0,316.0 784.0,315.0 784.5,311.0Z" stroke-width="14.0"/>
<path clip-path="url(#c4)" d="M749.0,275.0 762.0,274.5 764.0,272.0 774.0,272.0 776.0,275.0 779.0,277.5 786.0,278.0 788.0,281.0 790.0,285.0 794.0,288.0 796.0,292.5 807.0,293.0 810.0,290.0 840.0,290.0 840.0,328.0 805.0,328.5 801.0,331.0 799.0,334.0 794.0,335.0 792.0,340.0 792.0,370.0 750.0,370.0 750.0,295.0 749.0,285.0Z" stroke-width="9.6"/>
<path clip-path="url(#c4)" d="M707.8,278.3 709.2,278.3 709.2,279.7 707.8,279.7ZM703.0,338.5 704.4,338.5 704.4,339.9 703.0,339.9Z" stroke-width="6.7"/>
<path clip-path="url(#c5)" d="M744.0,350.0 748.0,346.0 752.0,350.0 762.0,350.0 770.0,345.0 772.0,349.0 785.0,353.0 770.0,356.0 765.0,356.0 760.0,358.0 759.0,368.0 762.0,373.0 764.0,380.0 763.0,385.0 764.0,393.0 761.0,397.0 756.0,400.0 750.0,404.0 747.0,405.0 734.0,406.0 724.0,408.0 724.0,396.0 726.0,394.0 734.0,396.0 734.0,388.0 727.0,388.0 728.0,375.0 730.0,370.0 730.0,360.0 735.0,356.0 735.0,352.0 744.0,354.0ZM710.0,365.0 724.0,365.0 725.0,370.0 720.0,372.5 710.0,372.5ZM670.0,394.0 713.0,394.0 713.5,404.0 721.5,406.0 721.5,410.0 723.0,412.0 724.0,425.0 724.0,455.0 670.0,455.0Z" stroke-width="11.2"/>
<path clip-path="url(#c5)" d="M761.5,409.0 766.0,409.0 766.5,406.5 769.0,406.5 769.0,414.0 761.5,414.0Z" stroke-width="7.8"/>
<path clip-path="url(#c5)" d="M740.5,371.0 749.5,371.0 749.5,390.5 740.5,390.5ZM744.5,358.5 750.0,358.5 750.0,366.0 744.5,366.0Z" stroke-width="7.3"/>
<path clip-path="url(#c5)" d="M733.0,310.0 788.0,310.0 787.0,346.0 785.0,354.0 770.0,356.5 766.0,356.0 764.0,360.0 762.0,363.0 763.0,370.0 764.0,373.0 765.0,380.0 764.0,385.0 765.0,393.0 762.0,397.0 756.0,400.0 750.0,404.0 747.0,406.0 735.0,406.5 734.0,410.0 734.0,416.0 736.0,420.0 740.0,425.0 742.0,455.0 670.0,455.0 670.0,364.0 724.0,364.0 729.0,360.0 730.0,357.0 733.0,355.0ZM670.0,375.0 706.0,374.5 710.0,375.5 726.0,376.0 726.5,379.0 725.0,380.0 710.0,381.0 709.5,388.0 706.0,390.0 670.0,390.0ZM715.0,390.0 721.5,390.0 721.5,403.0 715.0,403.0ZM772.0,383.0 779.0,382.0 785.0,383.0 785.0,388.0 780.0,392.0 774.0,392.0 772.0,388.0ZM760.0,406.0 770.0,406.0 770.0,415.0 760.0,415.0Z" stroke-width="7.7"/>
<path clip-path="url(#c5)" d="M740.5,371.0 749.5,371.0 749.5,390.5 740.5,390.5ZM744.5,358.5 750.0,358.5 750.0,366.0 744.5,366.0Z" stroke-width="5.0"/>
<path clip-path="url(#c5)" d="M786.0,377.0 794.0,377.0 794.0,382.0 786.0,382.0ZM779.0,394.0 785.0,394.0 785.0,399.0 779.0,399.0ZM702.0,337.0 706.0,337.0 706.0,341.0 702.0,341.0Z" stroke-width="2.7"/>
<path clip-path="url(#c6)" d="M670.0,395.0 713.0,395.0 713.0,428.0 706.0,431.0 704.0,438.0 703.5,447.0 702.0,447.0 701.5,435.0 670.0,435.0ZM724.0,395.0 739.0,395.0 738.5,435.0 745.0,439.0 748.0,445.0 749.0,454.0 752.0,456.0 756.0,460.0 756.0,462.5 750.0,462.5 740.0,460.0 738.0,465.0 737.0,474.0 734.0,474.0 733.0,469.0 727.0,467.0 727.0,461.0 729.0,459.0 729.0,453.0 724.0,452.0 724.0,445.0 727.0,443.0 727.0,435.0 724.0,431.0ZM670.0,460.2 709.0,460.2 709.0,462.8 670.0,462.8Z" stroke-width="11.2"/>
<path clip-path="url(#c6)" d="M722.0,486.0 728.5,485.0 729.0,491.0 724.0,492.0 723.5,494.0 722.0,494.0Z" stroke-width="7.8"/>
<path clip-path="url(#c6)" d="M670.0,395.0 740.0,395.0 739.5,435.0 747.0,439.0 750.0,445.0 751.0,455.0 757.0,459.0 758.0,463.0 754.0,464.0 742.0,463.5 740.0,465.0 740.0,473.0 742.0,475.0 760.0,477.0 766.0,481.0 770.0,484.0 777.0,485.0 779.0,489.0 785.0,493.0 790.0,490.0 792.0,489.0 800.0,489.0 840.0,488.0 840.0,540.0 670.0,540.0Z" stroke-width="7.7"/>
<path clip-path="url(#c6)" d="M670.0,464.0 714.0,464.0 715.0,469.0 718.0,477.0 724.0,479.0 725.0,483.0 720.0,485.0 720.0,494.0 718.0,496.0 706.0,499.0 670.0,499.0ZM733.0,481.0 742.0,481.0 747.0,485.0 753.0,489.0 755.0,495.0 754.0,499.0 748.0,504.0 744.0,503.0 740.0,497.0 735.0,491.0 732.0,487.0ZM779.0,503.0 798.0,503.0 799.0,510.0 799.0,540.0 778.0,540.0Z" stroke-width="5.0"/>
<path clip-path="url(#c7)" d="M751.0,540.0 754.0,540.0 754.0,543.0 759.0,543.0 759.0,545.8 751.0,545.8ZM796.2,513.0 798.8,513.0 798.8,515.5 796.2,515.5Z" stroke-width="9.8"/>
<path clip-path="url(#c7)" d="M670.0,480.0 717.0,480.0 716.5,520.0 714.0,525.0 710.0,528.0 700.0,528.5 670.0,528.5ZM729.0,480.0 776.0,480.0 770.0,513.0 762.0,518.0 762.0,527.0 761.5,534.0 760.0,540.0 759.0,543.0 751.0,543.0 750.5,535.0 750.0,525.0 748.0,521.0 735.0,520.0 732.0,515.0ZM802.0,480.0 840.0,480.0 840.0,522.0 806.0,521.0 802.0,516.0Z" stroke-width="9.6"/>
<path clip-path="url(#c7)" d="M744.0,546.5 749.0,546.5 749.0,551.0 744.0,551.0ZM794.0,508.0 800.0,508.0 800.0,516.0 794.0,516.0Z" stroke-width="3.4"/>
<path clip-path="url(#c8)" d="M896.5,209.3 902.5,209.3 902.5,211.5 896.5,211.5ZM893.3,212.3 895.8,212.3 895.8,214.7 893.3,214.7Z" stroke-width="9.8"/>
<path clip-path="url(#c8)" d="M893.0,209.5 896.0,208.5 904.0,208.5 905.0,212.0 898.0,213.0 897.0,216.5 893.0,217.0ZM950.0,238.0 916.0,238.5 915.0,244.0 910.0,247.0 906.0,249.0 903.0,251.0 898.0,253.0 895.0,285.0 950.0,285.0Z" stroke-width="9.6"/>
<path clip-path="url(#c8)" d="M918.5,219.0 924.0,219.0 924.0,224.0 918.5,224.0ZM846.0,212.0 852.0,212.0 852.0,215.0 846.0,215.0ZM843.0,224.0 848.5,224.0 848.5,227.0 843.0,227.0Z" stroke-width="3.4"/>
<path clip-path="url(#c9)" d="M879.0,313.0 888.0,312.5 889.0,308.5 891.0,308.5 891.5,312.0 893.0,313.0 893.0,315.0 889.0,316.0 885.0,317.0 884.0,321.0 879.0,321.5 878.0,317.0Z" stroke-width="14.0"/>
<path clip-path="url(#c9)" d="M780.0,288.0 814.0,288.0 814.5,295.0 821.0,296.0 823.0,292.0 830.0,288.0 836.0,285.0 840.0,282.0 850.0,280.0 853.0,277.0 860.0,276.5 864.0,274.0 872.0,272.0 875.0,269.0 878.0,265.0 882.0,266.0 886.0,263.0 892.0,261.0 893.0,257.0 896.0,225.0 950.0,225.0 950.0,259.0 914.0,260.0 913.0,264.0 900.0,265.0 898.0,267.0 890.0,268.5 886.0,271.0 884.0,272.0 880.0,273.0 879.0,276.0 874.0,277.0 872.0,279.0 871.0,284.0 869.0,288.0 866.0,291.0 862.0,293.5 860.0,295.0 859.0,299.0 859.0,307.0 857.5,311.5 854.5,315.0 852.0,319.0 848.0,325.0 840.0,335.0 780.0,370.0ZM874.0,315.0 878.0,311.0 880.0,309.0 893.0,308.0 895.0,312.0 897.0,315.5 901.0,314.5 904.0,312.0 910.0,335.0 880.0,335.0 870.0,329.5 867.0,325.0 870.0,320.0ZM845.0,332.0 852.0,331.0 854.0,335.0 852.0,340.0 845.0,340.0 844.0,336.0Z" stroke-width="9.6"/>
<path clip-path="url(#c9)" d="M816.5,318.5 823.5,318.5 823.5,324.0 816.5,324.0ZM826.5,273.0 830.0,273.0 830.0,280.5 826.5,280.5ZM913.0,272.0 915.0,272.0 915.0,277.0 913.0,277.0ZM879.0,293.0 883.0,293.0 883.0,296.0 879.0,296.0Z" stroke-width="6.7"/>
<path clip-path="url(#c9)" d="M866.0,324.0 869.0,319.0 873.0,315.0 874.0,319.0 870.0,325.0 868.0,328.0Z" stroke-width="4.8"/>
<path clip-path="url(#c10)" d="M833.5,379.5 836.5,379.5 836.5,387.5 833.5,387.5Z" stroke-width="9.8"/>
<path clip-path="url(#c10)" d="M829.0,371.0 833.5,371.0 833.5,375.0 829.0,375.0Z" stroke-width="6.7"/>
<path clip-path="url(#c10)" d="M830.0,373.0 835.0,373.0 843.0,376.0 843.0,379.0 838.5,379.5 838.0,388.0 831.0,388.0 830.0,380.0Z" stroke-width="4.8"/>
<path clip-path="url(#c10)" d="M847.0,337.0 853.0,337.0 852.0,343.0 848.0,343.0Z" stroke-width="3.4"/>
<path clip-path="url(#c11)" d="M816.0,477.0 824.0,475.0 830.0,477.0 832.0,481.0 836.0,483.0 836.0,486.0 826.0,486.0 826.0,481.0 821.0,480.0 821.0,483.0 816.0,483.0Z" stroke-width="14.0"/>
<path clip-path="url(#c11)" d="M780.0,484.0 810.0,483.0 814.0,481.0 814.5,475.0 833.0,475.0 836.0,481.0 837.0,489.0 833.0,493.0 829.0,495.0 825.0,498.0 825.0,502.0 827.5,505.0 829.0,510.0 829.0,540.0 780.0,540.0Z" stroke-width="9.6"/>
<path clip-path="url(#c11)" d="M835.5,492.5 840.5,492.5 840.5,494.5 835.5,494.5Z" stroke-width="3.4"/>
<path clip-path="url(#c12)" d="M780.0,480.0 826.0,480.0 825.0,518.0 820.0,521.0 819.0,525.0 780.0,525.0Z" stroke-width="9.6"/>
<path clip-path="url(#c13)" d="M971.0,159.0 990.0,159.0 990.0,200.0 961.0,200.0 970.0,168.0Z" stroke-width="9.6"/>
<path clip-path="url(#c14)" d="M980.5,182.5 982.5,182.5 982.5,184.5 980.5,184.5ZM928.0,221.5 929.8,221.5 929.8,223.3 928.0,223.3Z" stroke-width="9.8"/>
<path clip-path="url(#c14)" d="M980.0,140.0 980.0,181.0 981.0,185.0 981.0,194.0 984.0,195.0 985.0,203.0 983.5,209.0 976.0,210.0 974.0,214.0 964.0,216.0 963.0,220.0 960.0,224.0 953.0,225.0 945.0,228.0 944.0,232.0 935.0,234.0 934.0,240.0 932.0,242.0 926.0,246.0 925.0,285.0 890.0,285.0 890.0,235.0 922.0,234.0 929.0,230.0 930.0,224.5 934.0,223.0 938.0,219.0 945.0,217.0 946.0,210.0 943.0,209.0 930.0,206.0 928.0,200.0 931.0,196.0 937.0,194.0 939.0,189.0 940.0,185.0 949.0,183.0 950.0,177.0 960.0,175.0 960.0,140.0ZM918.0,220.0 928.0,220.5 928.0,223.5 918.0,224.0Z" stroke-width="9.6"/>
<path clip-path="url(#c14)" d="M965.0,242.2 970.0,242.2 970.5,246.0 967.0,247.0 965.0,245.0Z" stroke-width="3.4"/>
<path clip-path="url(#c15)" d="M916.0,251.0 921.0,251.0 921.0,259.0 918.0,261.0 916.0,275.0Z" stroke-width="9.6"/>
<path clip-path="url(#c15)" d="M933.2,257.0 935.0,257.0 935.0,259.0 933.2,259.0Z" stroke-width="6.7"/>
<path clip-path="url(#c15)" d="M930.5,253.0 938.0,253.0 938.0,262.5 930.5,262.5Z" stroke-width="4.8"/>
<path clip-path="url(#c18)" d="M430.0,544.4 448.0,542.4 440.0,548.0 430.0,554.0 426.4,555.0Z" stroke-width="6.7"/>
<path clip-path="url(#c18)" d="M429.0,525.0 433.0,525.0 433.0,530.0 429.0,530.0Z" stroke-width="4.7"/>
<path clip-path="url(#c18)" d="M394.0,565.0 414.0,564.0 420.0,560.0 426.0,554.0 428.0,546.0 430.0,554.0 420.0,563.0 410.0,568.0 394.0,569.0Z" stroke-width="3.4"/>
<path clip-path="url(#c19)" d="M668.0,629.0 672.0,629.0 672.0,633.0 668.0,633.0ZM632.0,644.0 635.0,644.0 635.0,649.0 632.0,649.0ZM642.4,656.0 645.6,656.0 645.6,660.0 642.4,660.0ZM720.0,637.4 724.4,637.4 724.4,642.0 720.0,642.0Z" stroke-width="3.4"/>
<path clip-path="url(#c20)" d="M250.0,240.0 253.0,238.0 266.0,237.6 269.0,230.0 274.0,223.0 281.0,220.0 286.0,213.0 300.0,212.0 304.0,214.4 380.0,215.0 380.0,242.0 320.0,241.0 312.0,242.0 304.0,242.0 300.0,240.0 295.0,240.0 291.0,247.0 282.0,248.4 278.0,244.4 272.0,246.0 258.0,246.0 252.0,243.4ZM208.0,290.4 224.0,290.0 228.0,292.0 236.0,291.0 248.0,290.4 252.0,293.0 258.0,295.0 270.0,295.0 274.0,292.0 288.0,290.0 292.0,292.0 295.0,295.0 302.0,295.0 304.4,298.0 303.0,302.0 314.0,302.4 319.0,299.0 318.4,284.0 320.0,274.0 380.0,270.0 380.0,410.0 143.0,410.0 143.0,350.0 140.0,342.0 137.0,340.0 136.0,324.0 137.0,310.0 160.0,292.0 196.0,280.0Z" stroke-width="14.0"/>
<path clip-path="url(#c20)" d="M283.0,305.0 293.0,305.0 293.0,315.0 283.0,315.0Z" stroke-width="9.1"/>
<path clip-path="url(#c21)" d="M260.0,217.0 320.0,218.0 328.0,219.0 338.0,225.0 350.0,231.0 360.0,232.4 368.0,235.0 378.0,235.6 386.0,240.0 392.0,244.0 402.0,246.0 408.0,248.0 420.0,251.0 426.0,255.0 440.0,255.6 450.0,246.0 600.0,260.0 600.0,410.0 260.0,410.0 260.0,303.0 320.0,303.0 325.0,300.0 326.0,292.0 326.0,280.0 327.0,266.0 330.0,260.4 334.0,259.4 342.0,259.4 348.0,256.4 349.4,250.0 346.0,247.0 340.0,244.0 332.0,242.0 324.0,240.0 260.0,240.0Z" stroke-width="14.0"/>
<path clip-path="url(#c21)" d="M397.0,261.0 404.0,255.6 420.0,254.8 424.0,258.0 430.0,262.0 436.0,266.0 440.0,270.0 437.0,275.0 433.0,279.0 426.0,281.0 420.0,277.0 414.0,272.4 406.0,269.4 400.0,265.0Z" stroke-width="9.1"/>
<path clip-path="url(#c22)" d="M480.0,260.0 820.0,260.0 820.0,410.0 480.0,410.0Z" stroke-width="14.0"/>
<path clip-path="url(#c23)" d="M145.0,290.0 147.0,358.0 151.0,369.0 158.0,373.0 166.0,376.0 174.0,379.0 180.0,383.0 188.0,387.0 196.0,389.0 204.0,389.0 212.0,392.0 218.0,396.0 228.0,398.0 238.0,397.0 246.0,393.0 256.0,390.0 266.0,387.0 274.0,384.0 286.0,383.0 290.0,379.0 290.0,374.0 298.0,371.0 310.0,370.0 320.0,367.0 380.0,367.0 380.0,290.0Z" stroke-width="6.3"/>
<path clip-path="url(#c24)" d="M260.0,367.0 320.0,366.0 334.0,364.0 346.0,363.0 360.0,366.0 368.0,372.0 372.0,380.0 380.0,383.0 390.0,385.0 394.0,394.0 396.0,406.0 399.0,418.0 401.0,430.0 408.0,434.0 414.0,438.0 416.0,446.0 426.0,449.0 432.0,452.0 440.0,458.0 448.0,460.0 460.0,459.0 464.0,454.0 468.0,446.0 478.0,443.0 486.0,440.0 492.0,432.0 508.0,429.0 516.0,432.0 522.0,430.0 540.0,429.0 600.0,429.0 600.0,290.0 260.0,290.0Z" stroke-width="6.3"/>
<path clip-path="url(#c24)" d="M469.0,489.0 474.0,489.0 474.0,494.0 469.0,494.0Z" stroke-width="1.5"/>
<path clip-path="url(#c25)" d="M450.0,310.0 620.0,310.0 620.0,455.0 450.0,455.0Z" stroke-width="14.0"/>
<path clip-path="url(#c26)" d="M540.0,429.5 544.0,432.0 548.0,434.0 552.0,433.0 556.0,431.0 563.0,433.0 570.0,433.5 572.5,436.0 572.5,445.0 573.0,453.0 570.0,455.0 568.0,459.0 568.0,465.0 565.0,469.0 563.0,472.0 564.0,475.0 568.0,476.0 568.0,479.0 564.0,481.0 563.5,489.0 568.0,490.0 569.0,495.0 569.0,510.0 569.0,540.0 620.0,540.0 620.0,395.0 540.0,395.0Z" stroke-width="8.4"/>
<path clip-path="url(#c26)" d="M573.5,462.5 578.5,462.5 578.5,469.5 573.5,469.5Z" stroke-width="5.5"/>
<path clip-path="url(#c26)" d="M550.0,479.8 566.0,479.8 566.0,495.0 550.0,495.0Z" stroke-width="5.8"/>
<path clip-path="url(#c27)" d="M575.0,591.0 580.0,591.0 580.0,625.0 575.0,625.0Z" stroke-width="14.0"/>
<path clip-path="url(#c27)" d="M573.5,588.0 581.0,588.0 581.0,625.0 573.5,625.0Z" stroke-width="9.6"/>
<path clip-path="url(#c27)" d="M587.5,522.5 592.0,522.5 592.0,528.0 587.5,528.0ZM496.0,564.0 501.5,564.0 501.5,569.5 496.0,569.5Z" stroke-width="3.4"/>
<path clip-path="url(#c28)" d="M575.0,565.0 578.5,565.0 578.5,597.0 575.0,597.0Z" stroke-width="11.2"/>
<path clip-path="url(#c28)" d="M509.0,609.5 523.0,609.5 528.0,610.5 529.0,614.5 534.0,615.5 535.0,622.5 540.0,624.2 548.0,623.5 549.0,628.0 549.0,638.0 547.0,642.0 544.0,645.0 536.0,645.0 532.0,647.5 534.5,651.0 538.0,655.0 540.0,660.0 541.0,670.0 532.0,669.5 529.0,663.0 514.5,663.0 512.0,657.0 510.0,652.5 505.0,651.0 503.5,647.0 504.0,640.0 506.0,636.0 500.0,633.0 499.0,622.5 509.0,621.5ZM572.0,565.0 584.0,565.0 584.0,601.0 580.0,605.0 575.0,610.0 570.0,615.0 566.0,621.0 564.0,625.0 560.0,625.0 559.0,621.0 562.0,615.0 565.0,607.0 570.0,601.0ZM450.0,607.0 486.0,609.0 491.0,613.5 496.5,612.0 450.0,623.0Z" stroke-width="7.7"/>
<path clip-path="url(#c28)" d="M498.5,600.0 502.0,600.0 502.0,609.0 498.5,609.0ZM552.5,600.5 559.0,600.5 559.0,605.0 552.5,605.0Z" stroke-width="5.4"/>
<path clip-path="url(#c28)" d="M514.0,625.0 519.5,625.0 519.5,632.0 514.0,632.0ZM525.0,625.0 534.0,626.0 537.5,631.0 537.0,636.5 526.0,636.5 524.5,631.0ZM510.5,641.5 522.5,641.5 522.5,649.5 510.5,649.5Z" stroke-width="5.0"/>
<path clip-path="url(#c30)" d="M842.0,600.0 845.6,600.0 845.6,602.0 842.0,602.0Z" stroke-width="3.4"/>
</g>
<g fill="#ff7e00" fill-rule="evenodd">
<path clip-path="url(#c3)" d="M587.0,521.0 592.0,521.0 592.0,528.0 587.0,528.0Z"/>
<path clip-path="url(#c5)" d="M762.0,374.0 768.0,374.0 768.0,384.0 762.0,384.0Z"/>
<path clip-path="url(#c27)" d="M569.5,507.0 574.5,507.0 574.5,511.5 569.5,511.5Z"/>
</g>
<g stroke="#ff0000" fill="none">
<path clip-path="url(#c0)" d="M560.0,295.0 630.0,265.0 673.0,265.0 673.0,284.0 667.0,284.0 667.0,287.0 664.0,290.0 662.0,290.5 660.5,293.0 660.5,298.0 662.5,301.5 667.0,302.0 667.0,308.0 665.0,309.0 665.0,315.0 667.0,318.5 672.0,319.5 672.5,324.0 681.5,324.5 682.5,316.0 685.0,313.5 691.0,314.0 692.0,316.0 686.0,319.0 684.2,325.0 684.2,337.0 686.0,370.0 560.0,370.0Z" stroke-width="9.6"/>
<path clip-path="url(#c0)" d="M647.0,319.5 662.0,319.5 664.5,322.0 664.5,327.5 662.0,330.5 647.5,330.5 645.0,327.5 645.0,322.0Z" stroke-width="6.2"/>
<path clip-path="url(#c1)" d="M560.0,310.0 730.0,310.0 730.0,455.0 560.0,455.0ZM618.5,383.0 625.0,381.5 625.5,376.5 634.5,376.0 636.5,380.0 637.0,385.0 642.0,388.0 646.0,392.0 654.0,394.0 656.0,396.0 659.0,394.0 662.0,394.0 664.0,391.0 666.0,388.0 665.0,384.0 662.0,383.0 662.0,374.0 665.0,370.0 673.0,370.0 675.0,374.0 676.0,376.0 680.0,374.0 684.0,370.0 692.0,370.0 693.0,373.0 694.0,379.0 697.0,382.0 730.0,381.0 730.0,396.0 698.0,398.0 693.0,400.0 690.0,405.0 680.0,406.0 677.0,409.0 666.0,410.0 660.0,406.0 656.0,409.0 647.0,410.0 646.0,418.0 644.0,421.0 640.0,455.0 592.0,455.0 592.0,403.0 596.0,400.0 620.0,400.0 617.0,396.0 617.0,388.0ZM684.5,310.0 683.0,346.0 679.0,347.5 678.0,352.0 682.0,355.0 685.0,358.0 688.0,361.5 691.0,365.0 695.0,367.0 730.0,368.0 730.0,310.0ZM662.5,420.0 669.5,420.0 670.0,455.0 662.0,455.0Z" stroke-width="5.8"/>
<path clip-path="url(#c2)" d="M560.0,395.0 595.0,395.0 594.5,433.0 594.0,442.0 560.0,443.0ZM560.0,459.5 596.0,459.5 596.0,475.0 594.0,477.0 560.0,477.0ZM605.0,492.2 615.0,492.2 615.0,494.8 605.0,494.8ZM642.0,395.0 650.0,395.0 649.0,429.0 643.0,429.5ZM680.0,395.0 730.0,395.0 730.0,435.0 690.0,436.0 682.0,435.0 678.0,430.0ZM687.0,448.2 697.0,448.2 697.0,453.0 687.0,453.0Z" stroke-width="7.7"/>
<path clip-path="url(#c2)" d="M592.0,495.0 595.0,495.0 595.0,501.0 592.0,501.0Z" stroke-width="5.4"/>
<path clip-path="url(#c2)" d="M560.0,395.0 598.0,395.0 597.0,431.0 595.0,443.0 560.0,443.5ZM560.0,459.0 596.0,459.0 596.5,474.0 603.0,479.0 610.0,484.0 620.0,485.0 630.0,486.0 631.0,490.0 620.0,493.0 615.0,495.5 604.0,495.5 602.0,485.0 592.0,484.0 560.0,484.0ZM560.0,494.0 595.0,494.0 595.5,502.0 560.0,503.0ZM678.0,395.0 730.0,395.0 730.0,465.0 696.0,464.5 689.0,459.0 684.0,454.0 683.0,447.0 680.0,438.0ZM697.5,489.0 730.0,489.0 730.0,540.0 697.0,540.0Z" stroke-width="3.8"/>
<path clip-path="url(#c2)" d="M665.5,440.0 667.0,440.0 667.0,444.0 665.5,444.0Z" stroke-width="2.7"/>
<path clip-path="url(#c2)" d="M684.0,440.0 698.5,440.0 698.5,444.5 684.0,444.5Z" stroke-width="2.5"/>
<path clip-path="url(#c3)" d="M696.0,480.0 730.0,480.0 730.0,516.0 699.0,515.0Z" stroke-width="4.8"/>
<path clip-path="url(#c3)" d="M690.0,527.0 693.0,527.0 693.0,533.0 690.0,533.0Z" stroke-width="3.4"/>
<path clip-path="url(#c4)" d="M704.5,311.0 717.0,311.0 717.5,308.0 719.0,305.0 719.0,299.0 730.0,299.0 731.0,296.5 740.0,296.0 742.0,293.0 747.0,292.5 749.0,284.0 749.0,275.0 754.0,275.0 756.0,279.0 771.0,281.0 771.5,285.0 774.0,288.0 774.0,295.0 771.0,296.0 771.0,307.0 769.0,308.0 765.0,309.5 762.0,313.0 756.0,316.0 754.5,319.0 758.0,322.0 754.5,325.0 751.0,327.0 750.0,331.0 752.0,334.0 756.0,335.0 758.0,337.0 759.0,340.0 759.0,370.0 737.0,370.0 737.0,323.0 736.0,320.0 737.0,316.0 737.0,314.0 734.0,313.0 730.0,312.5 722.0,312.5 720.0,315.0 719.0,319.0 717.0,321.5 712.0,321.5 709.5,320.0 708.5,317.0 704.5,315.0ZM786.0,308.0 789.0,308.0 791.0,311.0 791.0,319.0 796.0,322.0 801.0,323.0 801.0,329.0 798.0,331.0 794.0,334.0 790.0,335.0 787.0,332.0 783.0,331.0 781.0,327.0 777.0,324.0 777.5,319.0 780.0,316.0 784.0,315.0 784.5,311.0Z" stroke-width="9.6"/>
<path clip-path="url(#c4)" d="M749.0,275.0 762.0,274.5 764.0,272.0 774.0,272.0 776.0,275.0 779.0,277.5 786.0,278.0 788.0,281.0 790.0,285.0 794.0,288.0 796.0,292.5 807.0,293.0 810.0,290.0 840.0,290.0 840.0,328.0 805.0,328.5 801.0,331.0 799.0,334.0 794.0,335.0 792.0,340.0 792.0,370.0 750.0,370.0 750.0,295.0 749.0,285.0Z" stroke-width="4.8"/>
<path clip-path="url(#c4)" d="M707.8,278.3 709.2,278.3 709.2,279.7 707.8,279.7ZM703.0,338.5 704.4,338.5 704.4,339.9 703.0,339.9Z" stroke-width="3.4"/>
<path clip-path="url(#c5)" d="M744.0,350.0 748.0,346.0 752.0,350.0 762.0,350.0 770.0,345.0 772.0,349.0 785.0,353.0 770.0,356.0 765.0,356.0 760.0,358.0 759.0,368.0 762.0,373.0 764.0,380.0 763.0,385.0 764.0,393.0 761.0,397.0 756.0,400.0 750.0,404.0 747.0,405.0 734.0,406.0 724.0,408.0 724.0,396.0 726.0,394.0 734.0,396.0 734.0,388.0 727.0,388.0 728.0,375.0 730.0,370.0 730.0,360.0 735.0,356.0 735.0,352.0 744.0,354.0ZM710.0,365.0 724.0,365.0 725.0,370.0 720.0,372.5 710.0,372.5ZM670.0,394.0 713.0,394.0 713.5,404.0 721.5,406.0 721.5,410.0 723.0,412.0 724.0,425.0 724.0,455.0 670.0,455.0Z" stroke-width="7.7"/>
<path clip-path="url(#c5)" d="M761.5,409.0 766.0,409.0 766.5,406.5 769.0,406.5 769.0,414.0 761.5,414.0Z" stroke-width="5.4"/>
<path clip-path="url(#c5)" d="M740.5,371.0 749.5,371.0 749.5,390.5 740.5,390.5ZM744.5,358.5 750.0,358.5 750.0,366.0 744.5,366.0Z" stroke-width="5.0"/>
<path clip-path="url(#c5)" d="M733.0,310.0 788.0,310.0 787.0,346.0 785.0,354.0 770.0,356.5 766.0,356.0 764.0,360.0 762.0,363.0 763.0,370.0 764.0,373.0 765.0,380.0 764.0,385.0 765.0,393.0 762.0,397.0 756.0,400.0 750.0,404.0 747.0,406.0 735.0,406.5 734.0,410.0 734.0,416.0 736.0,420.0 740.0,425.0 742.0,455.0 670.0,455.0 670.0,364.0 724.0,364.0 729.0,360.0 730.0,357.0 733.0,355.0ZM670.0,375.0 706.0,374.5 710.0,375.5 726.0,376.0 726.5,379.0 725.0,380.0 710.0,381.0 709.5,388.0 706.0,390.0 670.0,390.0ZM715.0,390.0 721.5,390.0 721.5,403.0 715.0,403.0ZM772.0,383.0 779.0,382.0 785.0,383.0 785.0,388.0 780.0,392.0 774.0,392.0 772.0,388.0ZM760.0,406.0 770.0,406.0 770.0,415.0 760.0,415.0Z" stroke-width="3.8"/>
<path clip-path="url(#c5)" d="M740.5,371.0 749.5,371.0 749.5,390.5 740.5,390.5ZM744.5,358.5 750.0,358.5 750.0,366.0 744.5,366.0Z" stroke-width="2.5"/>
<path clip-path="url(#c6)" d="M670.0,395.0 713.0,395.0 713.0,428.0 706.0,431.0 704.0,438.0 703.5,447.0 702.0,447.0 701.5,435.0 670.0,435.0ZM724.0,395.0 739.0,395.0 738.5,435.0 745.0,439.0 748.0,445.0 749.0,454.0 752.0,456.0 756.0,460.0 756.0,462.5 750.0,462.5 740.0,460.0 738.0,465.0 737.0,474.0 734.0,474.0 733.0,469.0 727.0,467.0 727.0,461.0 729.0,459.0 729.0,453.0 724.0,452.0 724.0,445.0 727.0,443.0 727.0,435.0 724.0,431.0ZM670.0,460.2 709.0,460.2 709.0,462.8 670.0,462.8Z" stroke-width="7.7"/>
<path clip-path="url(#c6)" d="M722.0,486.0 728.5,485.0 729.0,491.0 724.0,492.0 723.5,494.0 722.0,494.0Z" stroke-width="5.4"/>
<path clip-path="url(#c6)" d="M670.0,395.0 740.0,395.0 739.5,435.0 747.0,439.0 750.0,445.0 751.0,455.0 757.0,459.0 758.0,463.0 754.0,464.0 742.0,463.5 740.0,465.0 740.0,473.0 742.0,475.0 760.0,477.0 766.0,481.0 770.0,484.0 777.0,485.0 779.0,489.0 785.0,493.0 790.0,490.0 792.0,489.0 800.0,489.0 840.0,488.0 840.0,540.0 670.0,540.0Z" stroke-width="3.8"/>
<path clip-path="url(#c6)" d="M670.0,464.0 714.0,464.0 715.0,469.0 718.0,477.0 724.0,479.0 725.0,483.0 720.0,485.0 720.0,494.0 718.0,496.0 706.0,499.0 670.0,499.0ZM733.0,481.0 742.0,481.0 747.0,485.0 753.0,489.0 755.0,495.0 754.0,499.0 748.0,504.0 744.0,503.0 740.0,497.0 735.0,491.0 732.0,487.0ZM779.0,503.0 798.0,503.0 799.0,510.0 799.0,540.0 778.0,540.0Z" stroke-width="2.5"/>
<path clip-path="url(#c7)" d="M751.0,540.0 754.0,540.0 754.0,543.0 759.0,543.0 759.0,545.8 751.0,545.8ZM796.2,513.0 798.8,513.0 798.8,515.5 796.2,515.5Z" stroke-width="6.7"/>
<path clip-path="url(#c7)" d="M670.0,480.0 717.0,480.0 716.5,520.0 714.0,525.0 710.0,528.0 700.0,528.5 670.0,528.5ZM729.0,480.0 776.0,480.0 770.0,513.0 762.0,518.0 762.0,527.0 761.5,534.0 760.0,540.0 759.0,543.0 751.0,543.0 750.5,535.0 750.0,525.0 748.0,521.0 735.0,520.0 732.0,515.0ZM802.0,480.0 840.0,480.0 840.0,522.0 806.0,521.0 802.0,516.0Z" stroke-width="4.8"/>
<path clip-path="url(#c8)" d="M896.5,209.3 902.5,209.3 902.5,211.5 896.5,211.5ZM893.3,212.3 895.8,212.3 895.8,214.7 893.3,214.7Z" stroke-width="6.7"/>
<path clip-path="url(#c8)" d="M893.0,209.5 896.0,208.5 904.0,208.5 905.0,212.0 898.0,213.0 897.0,216.5 893.0,217.0ZM950.0,238.0 916.0,238.5 915.0,244.0 910.0,247.0 906.0,249.0 903.0,251.0 898.0,253.0 895.0,285.0 950.0,285.0Z" stroke-width="4.8"/>
<path clip-path="url(#c9)" d="M879.0,313.0 888.0,312.5 889.0,308.5 891.0,308.5 891.5,312.0 893.0,313.0 893.0,315.0 889.0,316.0 885.0,317.0 884.0,321.0 879.0,321.5 878.0,317.0Z" stroke-width="9.6"/>
<path clip-path="url(#c9)" d="M780.0,288.0 814.0,288.0 814.5,295.0 821.0,296.0 823.0,292.0 830.0,288.0 836.0,285.0 840.0,282.0 850.0,280.0 853.0,277.0 860.0,276.5 864.0,274.0 872.0,272.0 875.0,269.0 878.0,265.0 882.0,266.0 886.0,263.0 892.0,261.0 893.0,257.0 896.0,225.0 950.0,225.0 950.0,259.0 914.0,260.0 913.0,264.0 900.0,265.0 898.0,267.0 890.0,268.5 886.0,271.0 884.0,272.0 880.0,273.0 879.0,276.0 874.0,277.0 872.0,279.0 871.0,284.0 869.0,288.0 866.0,291.0 862.0,293.5 860.0,295.0 859.0,299.0 859.0,307.0 857.5,311.5 854.5,315.0 852.0,319.0 848.0,325.0 840.0,335.0 780.0,370.0ZM874.0,315.0 878.0,311.0 880.0,309.0 893.0,308.0 895.0,312.0 897.0,315.5 901.0,314.5 904.0,312.0 910.0,335.0 880.0,335.0 870.0,329.5 867.0,325.0 870.0,320.0ZM845.0,332.0 852.0,331.0 854.0,335.0 852.0,340.0 845.0,340.0 844.0,336.0Z" stroke-width="4.8"/>
<path clip-path="url(#c9)" d="M816.5,318.5 823.5,318.5 823.5,324.0 816.5,324.0ZM826.5,273.0 830.0,273.0 830.0,280.5 826.5,280.5ZM913.0,272.0 915.0,272.0 915.0,277.0 913.0,277.0ZM879.0,293.0 883.0,293.0 883.0,296.0 879.0,296.0Z" stroke-width="3.4"/>
<path clip-path="url(#c10)" d="M833.5,379.5 836.5,379.5 836.5,387.5 833.5,387.5Z" stroke-width="6.7"/>
<path clip-path="url(#c10)" d="M829.0,371.0 833.5,371.0 833.5,375.0 829.0,375.0Z" stroke-width="3.4"/>
<path clip-path="url(#c11)" d="M816.0,477.0 824.0,475.0 830.0,477.0 832.0,481.0 836.0,483.0 836.0,486.0 826.0,486.0 826.0,481.0 821.0,480.0 821.0,483.0 816.0,483.0Z" stroke-width="9.6"/>
<path clip-path="url(#c11)" d="M780.0,484.0 810.0,483.0 814.0,481.0 814.5,475.0 833.0,475.0 836.0,481.0 837.0,489.0 833.0,493.0 829.0,495.0 825.0,498.0 825.0,502.0 827.5,505.0 829.0,510.0 829.0,540.0 780.0,540.0Z" stroke-width="4.8"/>
<path clip-path="url(#c12)" d="M780.0,480.0 826.0,480.0 825.0,518.0 820.0,521.0 819.0,525.0 780.0,525.0Z" stroke-width="4.8"/>
<path clip-path="url(#c13)" d="M971.0,159.0 990.0,159.0 990.0,200.0 961.0,200.0 970.0,168.0Z" stroke-width="4.8"/>
<path clip-path="url(#c14)" d="M980.5,182.5 982.5,182.5 982.5,184.5 980.5,184.5ZM928.0,221.5 929.8,221.5 929.8,223.3 928.0,223.3Z" stroke-width="6.7"/>
<path clip-path="url(#c14)" d="M980.0,140.0 980.0,181.0 981.0,185.0 981.0,194.0 984.0,195.0 985.0,203.0 983.5,209.0 976.0,210.0 974.0,214.0 964.0,216.0 963.0,220.0 960.0,224.0 953.0,225.0 945.0,228.0 944.0,232.0 935.0,234.0 934.0,240.0 932.0,242.0 926.0,246.0 925.0,285.0 890.0,285.0 890.0,235.0 922.0,234.0 929.0,230.0 930.0,224.5 934.0,223.0 938.0,219.0 945.0,217.0 946.0,210.0 943.0,209.0 930.0,206.0 928.0,200.0 931.0,196.0 937.0,194.0 939.0,189.0 940.0,185.0 949.0,183.0 950.0,177.0 960.0,175.0 960.0,140.0ZM918.0,220.0 928.0,220.5 928.0,223.5 918.0,224.0Z" stroke-width="4.8"/>
<path clip-path="url(#c15)" d="M916.0,251.0 921.0,251.0 921.0,259.0 918.0,261.0 916.0,275.0Z" stroke-width="4.8"/>
<path clip-path="url(#c15)" d="M933.2,257.0 935.0,257.0 935.0,259.0 933.2,259.0Z" stroke-width="3.4"/>
<path clip-path="url(#c18)" d="M430.0,544.4 448.0,542.4 440.0,548.0 430.0,554.0 426.4,555.0Z" stroke-width="3.4"/>
<path clip-path="url(#c18)" d="M429.0,525.0 433.0,525.0 433.0,530.0 429.0,530.0Z" stroke-width="2.4"/>
<path clip-path="url(#c20)" d="M250.0,240.0 253.0,238.0 266.0,237.6 269.0,230.0 274.0,223.0 281.0,220.0 286.0,213.0 300.0,212.0 304.0,214.4 380.0,215.0 380.0,242.0 320.0,241.0 312.0,242.0 304.0,242.0 300.0,240.0 295.0,240.0 291.0,247.0 282.0,248.4 278.0,244.4 272.0,246.0 258.0,246.0 252.0,243.4ZM208.0,290.4 224.0,290.0 228.0,292.0 236.0,291.0 248.0,290.4 252.0,293.0 258.0,295.0 270.0,295.0 274.0,292.0 288.0,290.0 292.0,292.0 295.0,295.0 302.0,295.0 304.4,298.0 303.0,302.0 314.0,302.4 319.0,299.0 318.4,284.0 320.0,274.0 380.0,270.0 380.0,410.0 143.0,410.0 143.0,350.0 140.0,342.0 137.0,340.0 136.0,324.0 137.0,310.0 160.0,292.0 196.0,280.0Z" stroke-width="9.6"/>
<path clip-path="url(#c20)" d="M283.0,305.0 293.0,305.0 293.0,315.0 283.0,315.0Z" stroke-width="6.2"/>
<path clip-path="url(#c21)" d="M260.0,217.0 320.0,218.0 328.0,219.0 338.0,225.0 350.0,231.0 360.0,232.4 368.0,235.0 378.0,235.6 386.0,240.0 392.0,244.0 402.0,246.0 408.0,248.0 420.0,251.0 426.0,255.0 440.0,255.6 450.0,246.0 600.0,260.0 600.0,410.0 260.0,410.0 260.0,303.0 320.0,303.0 325.0,300.0 326.0,292.0 326.0,280.0 327.0,266.0 330.0,260.4 334.0,259.4 342.0,259.4 348.0,256.4 349.4,250.0 346.0,247.0 340.0,244.0 332.0,242.0 324.0,240.0 260.0,240.0Z" stroke-width="9.6"/>
<path clip-path="url(#c21)" d="M397.0,261.0 404.0,255.6 420.0,254.8 424.0,258.0 430.0,262.0 436.0,266.0 440.0,270.0 437.0,275.0 433.0,279.0 426.0,281.0 420.0,277.0 414.0,272.4 406.0,269.4 400.0,265.0Z" stroke-width="6.2"/>
<path clip-path="url(#c22)" d="M480.0,260.0 820.0,260.0 820.0,410.0 480.0,410.0Z" stroke-width="9.6"/>
<path clip-path="url(#c23)" d="M145.0,290.0 147.0,358.0 151.0,369.0 158.0,373.0 166.0,376.0 174.0,379.0 180.0,383.0 188.0,387.0 196.0,389.0 204.0,389.0 212.0,392.0 218.0,396.0 228.0,398.0 238.0,397.0 246.0,393.0 256.0,390.0 266.0,387.0 274.0,384.0 286.0,383.0 290.0,379.0 290.0,374.0 298.0,371.0 310.0,370.0 320.0,367.0 380.0,367.0 380.0,290.0Z" stroke-width="4.3"/>
<path clip-path="url(#c24)" d="M260.0,367.0 320.0,366.0 334.0,364.0 346.0,363.0 360.0,366.0 368.0,372.0 372.0,380.0 380.0,383.0 390.0,385.0 394.0,394.0 396.0,406.0 399.0,418.0 401.0,430.0 408.0,434.0 414.0,438.0 416.0,446.0 426.0,449.0 432.0,452.0 440.0,458.0 448.0,460.0 460.0,459.0 464.0,454.0 468.0,446.0 478.0,443.0 486.0,440.0 492.0,432.0 508.0,429.0 516.0,432.0 522.0,430.0 540.0,429.0 600.0,429.0 600.0,290.0 260.0,290.0Z" stroke-width="4.3"/>
<path clip-path="url(#c25)" d="M450.0,310.0 620.0,310.0 620.0,455.0 450.0,455.0Z" stroke-width="9.6"/>
<path clip-path="url(#c26)" d="M540.0,429.5 544.0,432.0 548.0,434.0 552.0,433.0 556.0,431.0 563.0,433.0 570.0,433.5 572.5,436.0 572.5,445.0 573.0,453.0 570.0,455.0 568.0,459.0 568.0,465.0 565.0,469.0 563.0,472.0 564.0,475.0 568.0,476.0 568.0,479.0 564.0,481.0 563.5,489.0 568.0,490.0 569.0,495.0 569.0,510.0 569.0,540.0 620.0,540.0 620.0,395.0 540.0,395.0Z" stroke-width="5.8"/>
<path clip-path="url(#c26)" d="M573.5,462.5 578.5,462.5 578.5,469.5 573.5,469.5Z" stroke-width="3.7"/>
<path clip-path="url(#c26)" d="M550.0,479.8 566.0,479.8 566.0,495.0 550.0,495.0Z" stroke-width="2.9"/>
<path clip-path="url(#c27)" d="M575.0,591.0 580.0,591.0 580.0,625.0 575.0,625.0Z" stroke-width="9.6"/>
<path clip-path="url(#c27)" d="M573.5,588.0 581.0,588.0 581.0,625.0 573.5,625.0Z" stroke-width="4.8"/>
<path clip-path="url(#c28)" d="M575.0,565.0 578.5,565.0 578.5,597.0 575.0,597.0Z" stroke-width="7.7"/>
<path clip-path="url(#c28)" d="M509.0,609.5 523.0,609.5 528.0,610.5 529.0,614.5 534.0,615.5 535.0,622.5 540.0,624.2 548.0,623.5 549.0,628.0 549.0,638.0 547.0,642.0 544.0,645.0 536.0,645.0 532.0,647.5 534.5,651.0 538.0,655.0 540.0,660.0 541.0,670.0 532.0,669.5 529.0,663.0 514.5,663.0 512.0,657.0 510.0,652.5 505.0,651.0 503.5,647.0 504.0,640.0 506.0,636.0 500.0,633.0 499.0,622.5 509.0,621.5ZM572.0,565.0 584.0,565.0 584.0,601.0 580.0,605.0 575.0,610.0 570.0,615.0 566.0,621.0 564.0,625.0 560.0,625.0 559.0,621.0 562.0,615.0 565.0,607.0 570.0,601.0ZM450.0,607.0 486.0,609.0 491.0,613.5 496.5,612.0 450.0,623.0Z" stroke-width="3.8"/>
<path clip-path="url(#c28)" d="M498.5,600.0 502.0,600.0 502.0,609.0 498.5,609.0ZM552.5,600.5 559.0,600.5 559.0,605.0 552.5,605.0Z" stroke-width="2.7"/>
<path clip-path="url(#c28)" d="M514.0,625.0 519.5,625.0 519.5,632.0 514.0,632.0ZM525.0,625.0 534.0,626.0 537.5,631.0 537.0,636.5 526.0,636.5 524.5,631.0ZM510.5,641.5 522.5,641.5 522.5,649.5 510.5,649.5Z" stroke-width="2.5"/>
</g>
<g fill="#ff0000" fill-rule="evenodd">
<path clip-path="url(#c1)" d="M616.0,408.0 626.0,408.0 626.0,412.5 616.0,412.5Z"/>
<path clip-path="url(#c2)" d="M640.0,395.0 664.0,395.0 664.0,426.0 652.0,428.0 646.0,432.0 641.0,431.0Z"/>
<path clip-path="url(#c3)" d="M611.0,516.0 615.0,516.0 615.0,521.0 611.0,521.0Z"/>
<path clip-path="url(#c5)" d="M786.0,377.0 794.0,377.0 794.0,382.0 786.0,382.0ZM779.0,394.0 785.0,394.0 785.0,399.0 779.0,399.0ZM702.0,337.0 706.0,337.0 706.0,341.0 702.0,341.0Z"/>
<path clip-path="url(#c7)" d="M744.0,546.5 749.0,546.5 749.0,551.0 744.0,551.0ZM794.0,508.0 800.0,508.0 800.0,516.0 794.0,516.0Z"/>
<path clip-path="url(#c8)" d="M918.5,219.0 924.0,219.0 924.0,224.0 918.5,224.0ZM846.0,212.0 852.0,212.0 852.0,215.0 846.0,215.0ZM843.0,224.0 848.5,224.0 848.5,227.0 843.0,227.0Z"/>
<path clip-path="url(#c9)" d="M866.0,324.0 869.0,319.0 873.0,315.0 874.0,319.0 870.0,325.0 868.0,328.0Z"/>
<path clip-path="url(#c10)" d="M830.0,373.0 835.0,373.0 843.0,376.0 843.0,379.0 838.5,379.5 838.0,388.0 831.0,388.0 830.0,380.0ZM847.0,337.0 853.0,337.0 852.0,343.0 848.0,343.0Z"/>
<path clip-path="url(#c11)" d="M835.5,492.5 840.5,492.5 840.5,494.5 835.5,494.5Z"/>
<path clip-path="url(#c14)" d="M965.0,242.2 970.0,242.2 970.5,246.0 967.0,247.0 965.0,245.0Z"/>
<path clip-path="url(#c15)" d="M930.5,253.0 938.0,253.0 938.0,262.5 930.5,262.5Z"/>
<path clip-path="url(#c18)" d="M394.0,565.0 414.0,564.0 420.0,560.0 426.0,554.0 428.0,546.0 430.0,554.0 420.0,563.0 410.0,568.0 394.0,569.0Z"/>
<path clip-path="url(#c19)" d="M668.0,629.0 672.0,629.0 672.0,633.0 668.0,633.0ZM632.0,644.0 635.0,644.0 635.0,649.0 632.0,649.0ZM642.4,656.0 645.6,656.0 645.6,660.0 642.4,660.0ZM720.0,637.4 724.4,637.4 724.4,642.0 720.0,642.0Z"/>
<path clip-path="url(#c24)" d="M469.0,489.0 474.0,489.0 474.0,494.0 469.0,494.0Z"/>
<path clip-path="url(#c27)" d="M587.5,522.5 592.0,522.5 592.0,528.0 587.5,528.0ZM496.0,564.0 501.5,564.0 501.5,569.5 496.0,569.5Z"/>
<path clip-path="url(#c30)" d="M842.0,600.0 845.6,600.0 845.6,602.0 842.0,602.0Z"/>
</g>
<g stroke="#cd0064" fill="none">
<path clip-path="url(#c0)" d="M560.0,295.0 630.0,265.0 673.0,265.0 673.0,284.0 667.0,284.0 667.0,287.0 664.0,290.0 662.0,290.5 660.5,293.0 660.5,298.0 662.5,301.5 667.0,302.0 667.0,308.0 665.0,309.0 665.0,315.0 667.0,318.5 672.0,319.5 672.5,324.0 681.5,324.5 682.5,316.0 685.0,313.5 691.0,314.0 692.0,316.0 686.0,319.0 684.2,325.0 684.2,337.0 686.0,370.0 560.0,370.0Z" stroke-width="4.8"/>
<path clip-path="url(#c0)" d="M647.0,319.5 662.0,319.5 664.5,322.0 664.5,327.5 662.0,330.5 647.5,330.5 645.0,327.5 645.0,322.0Z" stroke-width="3.1"/>
<path clip-path="url(#c1)" d="M560.0,310.0 730.0,310.0 730.0,455.0 560.0,455.0ZM618.5,383.0 625.0,381.5 625.5,376.5 634.5,376.0 636.5,380.0 637.0,385.0 642.0,388.0 646.0,392.0 654.0,394.0 656.0,396.0 659.0,394.0 662.0,394.0 664.0,391.0 666.0,388.0 665.0,384.0 662.0,383.0 662.0,374.0 665.0,370.0 673.0,370.0 675.0,374.0 676.0,376.0 680.0,374.0 684.0,370.0 692.0,370.0 693.0,373.0 694.0,379.0 697.0,382.0 730.0,381.0 730.0,396.0 698.0,398.0 693.0,400.0 690.0,405.0 680.0,406.0 677.0,409.0 666.0,410.0 660.0,406.0 656.0,409.0 647.0,410.0 646.0,418.0 644.0,421.0 640.0,455.0 592.0,455.0 592.0,403.0 596.0,400.0 620.0,400.0 617.0,396.0 617.0,388.0ZM684.5,310.0 683.0,346.0 679.0,347.5 678.0,352.0 682.0,355.0 685.0,358.0 688.0,361.5 691.0,365.0 695.0,367.0 730.0,368.0 730.0,310.0ZM662.5,420.0 669.5,420.0 670.0,455.0 662.0,455.0Z" stroke-width="2.9"/>
<path clip-path="url(#c2)" d="M560.0,395.0 595.0,395.0 594.5,433.0 594.0,442.0 560.0,443.0ZM560.0,459.5 596.0,459.5 596.0,475.0 594.0,477.0 560.0,477.0ZM605.0,492.2 615.0,492.2 615.0,494.8 605.0,494.8ZM642.0,395.0 650.0,395.0 649.0,429.0 643.0,429.5ZM680.0,395.0 730.0,395.0 730.0,435.0 690.0,436.0 682.0,435.0 678.0,430.0ZM687.0,448.2 697.0,448.2 697.0,453.0 687.0,453.0Z" stroke-width="3.8"/>
<path clip-path="url(#c2)" d="M592.0,495.0 595.0,495.0 595.0,501.0 592.0,501.0Z" stroke-width="2.7"/>
<path clip-path="url(#c4)" d="M704.5,311.0 717.0,311.0 717.5,308.0 719.0,305.0 719.0,299.0 730.0,299.0 731.0,296.5 740.0,296.0 742.0,293.0 747.0,292.5 749.0,284.0 749.0,275.0 754.0,275.0 756.0,279.0 771.0,281.0 771.5,285.0 774.0,288.0 774.0,295.0 771.0,296.0 771.0,307.0 769.0,308.0 765.0,309.5 762.0,313.0 756.0,316.0 754.5,319.0 758.0,322.0 754.5,325.0 751.0,327.0 750.0,331.0 752.0,334.0 756.0,335.0 758.0,337.0 759.0,340.0 759.0,370.0 737.0,370.0 737.0,323.0 736.0,320.0 737.0,316.0 737.0,314.0 734.0,313.0 730.0,312.5 722.0,312.5 720.0,315.0 719.0,319.0 717.0,321.5 712.0,321.5 709.5,320.0 708.5,317.0 704.5,315.0ZM786.0,308.0 789.0,308.0 791.0,311.0 791.0,319.0 796.0,322.0 801.0,323.0 801.0,329.0 798.0,331.0 794.0,334.0 790.0,335.0 787.0,332.0 783.0,331.0 781.0,327.0 777.0,324.0 777.5,319.0 780.0,316.0 784.0,315.0 784.5,311.0Z" stroke-width="4.8"/>
<path clip-path="url(#c5)" d="M744.0,350.0 748.0,346.0 752.0,350.0 762.0,350.0 770.0,345.0 772.0,349.0 785.0,353.0 770.0,356.0 765.0,356.0 760.0,358.0 759.0,368.0 762.0,373.0 764.0,380.0 763.0,385.0 764.0,393.0 761.0,397.0 756.0,400.0 750.0,404.0 747.0,405.0 734.0,406.0 724.0,408.0 724.0,396.0 726.0,394.0 734.0,396.0 734.0,388.0 727.0,388.0 728.0,375.0 730.0,370.0 730.0,360.0 735.0,356.0 735.0,352.0 744.0,354.0ZM710.0,365.0 724.0,365.0 725.0,370.0 720.0,372.5 710.0,372.5ZM670.0,394.0 713.0,394.0 713.5,404.0 721.5,406.0 721.5,410.0 723.0,412.0 724.0,425.0 724.0,455.0 670.0,455.0Z" stroke-width="3.8"/>
<path clip-path="url(#c5)" d="M761.5,409.0 766.0,409.0 766.5,406.5 769.0,406.5 769.0,414.0 761.5,414.0Z" stroke-width="2.7"/>
<path clip-path="url(#c5)" d="M740.5,371.0 749.5,371.0 749.5,390.5 740.5,390.5ZM744.5,358.5 750.0,358.5 750.0,366.0 744.5,366.0Z" stroke-width="2.5"/>
<path clip-path="url(#c6)" d="M670.0,395.0 713.0,395.0 713.0,428.0 706.0,431.0 704.0,438.0 703.5,447.0 702.0,447.0 701.5,435.0 670.0,435.0ZM724.0,395.0 739.0,395.0 738.5,435.0 745.0,439.0 748.0,445.0 749.0,454.0 752.0,456.0 756.0,460.0 756.0,462.5 750.0,462.5 740.0,460.0 738.0,465.0 737.0,474.0 734.0,474.0 733.0,469.0 727.0,467.0 727.0,461.0 729.0,459.0 729.0,453.0 724.0,452.0 724.0,445.0 727.0,443.0 727.0,435.0 724.0,431.0ZM670.0,460.2 709.0,460.2 709.0,462.8 670.0,462.8Z" stroke-width="3.8"/>
<path clip-path="url(#c6)" d="M722.0,486.0 728.5,485.0 729.0,491.0 724.0,492.0 723.5,494.0 722.0,494.0Z" stroke-width="2.7"/>
<path clip-path="url(#c7)" d="M751.0,540.0 754.0,540.0 754.0,543.0 759.0,543.0 759.0,545.8 751.0,545.8ZM796.2,513.0 798.8,513.0 798.8,515.5 796.2,515.5Z" stroke-width="3.4"/>
<path clip-path="url(#c8)" d="M896.5,209.3 902.5,209.3 902.5,211.5 896.5,211.5ZM893.3,212.3 895.8,212.3 895.8,214.7 893.3,214.7Z" stroke-width="3.4"/>
<path clip-path="url(#c9)" d="M879.0,313.0 888.0,312.5 889.0,308.5 891.0,308.5 891.5,312.0 893.0,313.0 893.0,315.0 889.0,316.0 885.0,317.0 884.0,321.0 879.0,321.5 878.0,317.0Z" stroke-width="4.8"/>
<path clip-path="url(#c10)" d="M833.5,379.5 836.5,379.5 836.5,387.5 833.5,387.5Z" stroke-width="3.4"/>
<path clip-path="url(#c11)" d="M816.0,477.0 824.0,475.0 830.0,477.0 832.0,481.0 836.0,483.0 836.0,486.0 826.0,486.0 826.0,481.0 821.0,480.0 821.0,483.0 816.0,483.0Z" stroke-width="4.8"/>
<path clip-path="url(#c14)" d="M980.5,182.5 982.5,182.5 982.5,184.5 980.5,184.5ZM928.0,221.5 929.8,221.5 929.8,223.3 928.0,223.3Z" stroke-width="3.4"/>
<path clip-path="url(#c20)" d="M250.0,240.0 253.0,238.0 266.0,237.6 269.0,230.0 274.0,223.0 281.0,220.0 286.0,213.0 300.0,212.0 304.0,214.4 380.0,215.0 380.0,242.0 320.0,241.0 312.0,242.0 304.0,242.0 300.0,240.0 295.0,240.0 291.0,247.0 282.0,248.4 278.0,244.4 272.0,246.0 258.0,246.0 252.0,243.4ZM208.0,290.4 224.0,290.0 228.0,292.0 236.0,291.0 248.0,290.4 252.0,293.0 258.0,295.0 270.0,295.0 274.0,292.0 288.0,290.0 292.0,292.0 295.0,295.0 302.0,295.0 304.4,298.0 303.0,302.0 314.0,302.4 319.0,299.0 318.4,284.0 320.0,274.0 380.0,270.0 380.0,410.0 143.0,410.0 143.0,350.0 140.0,342.0 137.0,340.0 136.0,324.0 137.0,310.0 160.0,292.0 196.0,280.0Z" stroke-width="4.8"/>
<path clip-path="url(#c20)" d="M283.0,305.0 293.0,305.0 293.0,315.0 283.0,315.0Z" stroke-width="3.1"/>
<path clip-path="url(#c21)" d="M260.0,217.0 320.0,218.0 328.0,219.0 338.0,225.0 350.0,231.0 360.0,232.4 368.0,235.0 378.0,235.6 386.0,240.0 392.0,244.0 402.0,246.0 408.0,248.0 420.0,251.0 426.0,255.0 440.0,255.6 450.0,246.0 600.0,260.0 600.0,410.0 260.0,410.0 260.0,303.0 320.0,303.0 325.0,300.0 326.0,292.0 326.0,280.0 327.0,266.0 330.0,260.4 334.0,259.4 342.0,259.4 348.0,256.4 349.4,250.0 346.0,247.0 340.0,244.0 332.0,242.0 324.0,240.0 260.0,240.0Z" stroke-width="4.8"/>
<path clip-path="url(#c21)" d="M397.0,261.0 404.0,255.6 420.0,254.8 424.0,258.0 430.0,262.0 436.0,266.0 440.0,270.0 437.0,275.0 433.0,279.0 426.0,281.0 420.0,277.0 414.0,272.4 406.0,269.4 400.0,265.0Z" stroke-width="3.1"/>
<path clip-path="url(#c22)" d="M480.0,260.0 820.0,260.0 820.0,410.0 480.0,410.0Z" stroke-width="4.8"/>
<path clip-path="url(#c23)" d="M145.0,290.0 147.0,358.0 151.0,369.0 158.0,373.0 166.0,376.0 174.0,379.0 180.0,383.0 188.0,387.0 196.0,389.0 204.0,389.0 212.0,392.0 218.0,396.0 228.0,398.0 238.0,397.0 246.0,393.0 256.0,390.0 266.0,387.0 274.0,384.0 286.0,383.0 290.0,379.0 290.0,374.0 298.0,371.0 310.0,370.0 320.0,367.0 380.0,367.0 380.0,290.0Z" stroke-width="2.2"/>
<path clip-path="url(#c24)" d="M260.0,367.0 320.0,366.0 334.0,364.0 346.0,363.0 360.0,366.0 368.0,372.0 372.0,380.0 380.0,383.0 390.0,385.0 394.0,394.0 396.0,406.0 399.0,418.0 401.0,430.0 408.0,434.0 414.0,438.0 416.0,446.0 426.0,449.0 432.0,452.0 440.0,458.0 448.0,460.0 460.0,459.0 464.0,454.0 468.0,446.0 478.0,443.0 486.0,440.0 492.0,432.0 508.0,429.0 516.0,432.0 522.0,430.0 540.0,429.0 600.0,429.0 600.0,290.0 260.0,290.0Z" stroke-width="2.2"/>
<path clip-path="url(#c25)" d="M450.0,310.0 620.0,310.0 620.0,455.0 450.0,455.0Z" stroke-width="4.8"/>
<path clip-path="url(#c26)" d="M540.0,429.5 544.0,432.0 548.0,434.0 552.0,433.0 556.0,431.0 563.0,433.0 570.0,433.5 572.5,436.0 572.5,445.0 573.0,453.0 570.0,455.0 568.0,459.0 568.0,465.0 565.0,469.0 563.0,472.0 564.0,475.0 568.0,476.0 568.0,479.0 564.0,481.0 563.5,489.0 568.0,490.0 569.0,495.0 569.0,510.0 569.0,540.0 620.0,540.0 620.0,395.0 540.0,395.0Z" stroke-width="2.9"/>
<path clip-path="url(#c26)" d="M573.5,462.5 578.5,462.5 578.5,469.5 573.5,469.5Z" stroke-width="1.9"/>
<path clip-path="url(#c27)" d="M575.0,591.0 580.0,591.0 580.0,625.0 575.0,625.0Z" stroke-width="4.8"/>
<path clip-path="url(#c28)" d="M575.0,565.0 578.5,565.0 578.5,597.0 575.0,597.0Z" stroke-width="3.8"/>
</g>
<g fill="#cd0064" fill-rule="evenodd">
<path clip-path="url(#c2)" d="M560.0,395.0 598.0,395.0 597.0,431.0 595.0,443.0 560.0,443.5ZM560.0,459.0 596.0,459.0 596.5,474.0 603.0,479.0 610.0,484.0 620.0,485.0 630.0,486.0 631.0,490.0 620.0,493.0 615.0,495.5 604.0,495.5 602.0,485.0 592.0,484.0 560.0,484.0ZM560.0,494.0 595.0,494.0 595.5,502.0 560.0,503.0ZM678.0,395.0 730.0,395.0 730.0,465.0 696.0,464.5 689.0,459.0 684.0,454.0 683.0,447.0 680.0,438.0ZM697.5,489.0 730.0,489.0 730.0,540.0 697.0,540.0ZM665.5,440.0 667.0,440.0 667.0,444.0 665.5,444.0ZM684.0,440.0 698.5,440.0 698.5,444.5 684.0,444.5Z"/>
<path clip-path="url(#c3)" d="M690.0,527.0 693.0,527.0 693.0,533.0 690.0,533.0ZM696.0,480.0 730.0,480.0 730.0,516.0 699.0,515.0Z"/>
<path clip-path="url(#c4)" d="M749.0,275.0 762.0,274.5 764.0,272.0 774.0,272.0 776.0,275.0 779.0,277.5 786.0,278.0 788.0,281.0 790.0,285.0 794.0,288.0 796.0,292.5 807.0,293.0 810.0,290.0 840.0,290.0 840.0,328.0 805.0,328.5 801.0,331.0 799.0,334.0 794.0,335.0 792.0,340.0 792.0,370.0 750.0,370.0 750.0,295.0 749.0,285.0ZM707.8,278.3 709.2,278.3 709.2,279.7 707.8,279.7ZM703.0,338.5 704.4,338.5 704.4,339.9 703.0,339.9Z"/>
<path clip-path="url(#c5)" d="M733.0,310.0 788.0,310.0 787.0,346.0 785.0,354.0 770.0,356.5 766.0,356.0 764.0,360.0 762.0,363.0 763.0,370.0 764.0,373.0 765.0,380.0 764.0,385.0 765.0,393.0 762.0,397.0 756.0,400.0 750.0,404.0 747.0,406.0 735.0,406.5 734.0,410.0 734.0,416.0 736.0,420.0 740.0,425.0 742.0,455.0 670.0,455.0 670.0,364.0 724.0,364.0 729.0,360.0 730.0,357.0 733.0,355.0ZM670.0,375.0 706.0,374.5 710.0,375.5 726.0,376.0 726.5,379.0 725.0,380.0 710.0,381.0 709.5,388.0 706.0,390.0 670.0,390.0ZM715.0,390.0 721.5,390.0 721.5,403.0 715.0,403.0ZM772.0,383.0 779.0,382.0 785.0,383.0 785.0,388.0 780.0,392.0 774.0,392.0 772.0,388.0ZM760.0,406.0 770.0,406.0 770.0,415.0 760.0,415.0ZM740.5,371.0 749.5,371.0 749.5,390.5 740.5,390.5ZM744.5,358.5 750.0,358.5 750.0,366.0 744.5,366.0Z"/>
<path clip-path="url(#c6)" d="M670.0,395.0 740.0,395.0 739.5,435.0 747.0,439.0 750.0,445.0 751.0,455.0 757.0,459.0 758.0,463.0 754.0,464.0 742.0,463.5 740.0,465.0 740.0,473.0 742.0,475.0 760.0,477.0 766.0,481.0 770.0,484.0 777.0,485.0 779.0,489.0 785.0,493.0 790.0,490.0 792.0,489.0 800.0,489.0 840.0,488.0 840.0,540.0 670.0,540.0ZM670.0,464.0 714.0,464.0 715.0,469.0 718.0,477.0 724.0,479.0 725.0,483.0 720.0,485.0 720.0,494.0 718.0,496.0 706.0,499.0 670.0,499.0ZM733.0,481.0 742.0,481.0 747.0,485.0 753.0,489.0 755.0,495.0 754.0,499.0 748.0,504.0 744.0,503.0 740.0,497.0 735.0,491.0 732.0,487.0ZM779.0,503.0 798.0,503.0 799.0,510.0 799.0,540.0 778.0,540.0Z"/>
<path clip-path="url(#c7)" d="M670.0,480.0 717.0,480.0 716.5,520.0 714.0,525.0 710.0,528.0 700.0,528.5 670.0,528.5ZM729.0,480.0 776.0,480.0 770.0,513.0 762.0,518.0 762.0,527.0 761.5,534.0 760.0,540.0 759.0,543.0 751.0,543.0 750.5,535.0 750.0,525.0 748.0,521.0 735.0,520.0 732.0,515.0ZM802.0,480.0 840.0,480.0 840.0,522.0 806.0,521.0 802.0,516.0Z"/>
<path clip-path="url(#c8)" d="M893.0,209.5 896.0,208.5 904.0,208.5 905.0,212.0 898.0,213.0 897.0,216.5 893.0,217.0ZM950.0,238.0 916.0,238.5 915.0,244.0 910.0,247.0 906.0,249.0 903.0,251.0 898.0,253.0 895.0,285.0 950.0,285.0Z"/>
<path clip-path="url(#c9)" d="M780.0,288.0 814.0,288.0 814.5,295.0 821.0,296.0 823.0,292.0 830.0,288.0 836.0,285.0 840.0,282.0 850.0,280.0 853.0,277.0 860.0,276.5 864.0,274.0 872.0,272.0 875.0,269.0 878.0,265.0 882.0,266.0 886.0,263.0 892.0,261.0 893.0,257.0 896.0,225.0 950.0,225.0 950.0,259.0 914.0,260.0 913.0,264.0 900.0,265.0 898.0,267.0 890.0,268.5 886.0,271.0 884.0,272.0 880.0,273.0 879.0,276.0 874.0,277.0 872.0,279.0 871.0,284.0 869.0,288.0 866.0,291.0 862.0,293.5 860.0,295.0 859.0,299.0 859.0,307.0 857.5,311.5 854.5,315.0 852.0,319.0 848.0,325.0 840.0,335.0 780.0,370.0ZM816.5,318.5 823.5,318.5 823.5,324.0 816.5,324.0ZM874.0,315.0 878.0,311.0 880.0,309.0 893.0,308.0 895.0,312.0 897.0,315.5 901.0,314.5 904.0,312.0 910.0,335.0 880.0,335.0 870.0,329.5 867.0,325.0 870.0,320.0ZM845.0,332.0 852.0,331.0 854.0,335.0 852.0,340.0 845.0,340.0 844.0,336.0ZM826.5,273.0 830.0,273.0 830.0,280.5 826.5,280.5ZM913.0,272.0 915.0,272.0 915.0,277.0 913.0,277.0ZM879.0,293.0 883.0,293.0 883.0,296.0 879.0,296.0Z"/>
<path clip-path="url(#c10)" d="M829.0,371.0 833.5,371.0 833.5,375.0 829.0,375.0Z"/>
<path clip-path="url(#c11)" d="M780.0,484.0 810.0,483.0 814.0,481.0 814.5,475.0 833.0,475.0 836.0,481.0 837.0,489.0 833.0,493.0 829.0,495.0 825.0,498.0 825.0,502.0 827.5,505.0 829.0,510.0 829.0,540.0 780.0,540.0Z"/>
<path clip-path="url(#c12)" d="M780.0,480.0 826.0,480.0 825.0,518.0 820.0,521.0 819.0,525.0 780.0,525.0Z"/>
<path clip-path="url(#c13)" d="M971.0,159.0 990.0,159.0 990.0,200.0 961.0,200.0 970.0,168.0Z"/>
<path clip-path="url(#c14)" d="M980.0,140.0 980.0,181.0 981.0,185.0 981.0,194.0 984.0,195.0 985.0,203.0 983.5,209.0 976.0,210.0 974.0,214.0 964.0,216.0 963.0,220.0 960.0,224.0 953.0,225.0 945.0,228.0 944.0,232.0 935.0,234.0 934.0,240.0 932.0,242.0 926.0,246.0 925.0,285.0 890.0,285.0 890.0,235.0 922.0,234.0 929.0,230.0 930.0,224.5 934.0,223.0 938.0,219.0 945.0,217.0 946.0,210.0 943.0,209.0 930.0,206.0 928.0,200.0 931.0,196.0 937.0,194.0 939.0,189.0 940.0,185.0 949.0,183.0 950.0,177.0 960.0,175.0 960.0,140.0ZM918.0,220.0 928.0,220.5 928.0,223.5 918.0,224.0Z"/>
<path clip-path="url(#c15)" d="M916.0,251.0 921.0,251.0 921.0,259.0 918.0,261.0 916.0,275.0ZM933.2,257.0 935.0,257.0 935.0,259.0 933.2,259.0Z"/>
<path clip-path="url(#c18)" d="M429.0,525.0 433.0,525.0 433.0,530.0 429.0,530.0ZM430.0,544.4 448.0,542.4 440.0,548.0 430.0,554.0 426.4,555.0Z"/>
<path clip-path="url(#c26)" d="M550.0,479.8 566.0,479.8 566.0,495.0 550.0,495.0Z"/>
<path clip-path="url(#c27)" d="M573.5,588.0 581.0,588.0 581.0,625.0 573.5,625.0Z"/>
<path clip-path="url(#c28)" d="M509.0,609.5 523.0,609.5 528.0,610.5 529.0,614.5 534.0,615.5 535.0,622.5 540.0,624.2 548.0,623.5 549.0,628.0 549.0,638.0 547.0,642.0 544.0,645.0 536.0,645.0 532.0,647.5 534.5,651.0 538.0,655.0 540.0,660.0 541.0,670.0 532.0,669.5 529.0,663.0 514.5,663.0 512.0,657.0 510.0,652.5 505.0,651.0 503.5,647.0 504.0,640.0 506.0,636.0 500.0,633.0 499.0,622.5 509.0,621.5ZM572.0,565.0 584.0,565.0 584.0,601.0 580.0,605.0 575.0,610.0 570.0,615.0 566.0,621.0 564.0,625.0 560.0,625.0 559.0,621.0 562.0,615.0 565.0,607.0 570.0,601.0ZM450.0,607.0 486.0,609.0 491.0,613.5 496.5,612.0 450.0,623.0ZM498.5,600.0 502.0,600.0 502.0,609.0 498.5,609.0ZM552.5,600.5 559.0,600.5 559.0,605.0 552.5,605.0ZM514.0,625.0 519.5,625.0 519.5,632.0 514.0,632.0ZM525.0,625.0 534.0,626.0 537.5,631.0 537.0,636.5 526.0,636.5 524.5,631.0ZM510.5,641.5 522.5,641.5 522.5,649.5 510.5,649.5Z"/>
</g>
<g fill="#7e0023" fill-rule="evenodd">
<path clip-path="url(#c0)" d="M560.0,295.0 630.0,265.0 673.0,265.0 673.0,284.0 667.0,284.0 667.0,287.0 664.0,290.0 662.0,290.5 660.5,293.0 660.5,298.0 662.5,301.5 667.0,302.0 667.0,308.0 665.0,309.0 665.0,315.0 667.0,318.5 672.0,319.5 672.5,324.0 681.5,324.5 682.5,316.0 685.0,313.5 691.0,314.0 692.0,316.0 686.0,319.0 684.2,325.0 684.2,337.0 686.0,370.0 560.0,370.0ZM647.0,319.5 662.0,319.5 664.5,322.0 664.5,327.5 662.0,330.5 647.5,330.5 645.0,327.5 645.0,322.0Z"/>
<path clip-path="url(#c1)" d="M560.0,310.0 730.0,310.0 730.0,455.0 560.0,455.0ZM618.5,383.0 625.0,381.5 625.5,376.5 634.5,376.0 636.5,380.0 637.0,385.0 642.0,388.0 646.0,392.0 654.0,394.0 656.0,396.0 659.0,394.0 662.0,394.0 664.0,391.0 666.0,388.0 665.0,384.0 662.0,383.0 662.0,374.0 665.0,370.0 673.0,370.0 675.0,374.0 676.0,376.0 680.0,374.0 684.0,370.0 692.0,370.0 693.0,373.0 694.0,379.0 697.0,382.0 730.0,381.0 730.0,396.0 698.0,398.0 693.0,400.0 690.0,405.0 680.0,406.0 677.0,409.0 666.0,410.0 660.0,406.0 656.0,409.0 647.0,410.0 646.0,418.0 644.0,421.0 640.0,455.0 592.0,455.0 592.0,403.0 596.0,400.0 620.0,400.0 617.0,396.0 617.0,388.0ZM684.5,310.0 683.0,346.0 679.0,347.5 678.0,352.0 682.0,355.0 685.0,358.0 688.0,361.5 691.0,365.0 695.0,367.0 730.0,368.0 730.0,310.0ZM662.5,420.0 669.5,420.0 670.0,455.0 662.0,455.0Z"/>
<path clip-path="url(#c2)" d="M560.0,395.0 595.0,395.0 594.5,433.0 594.0,442.0 560.0,443.0ZM560.0,459.5 596.0,459.5 596.0,475.0 594.0,477.0 560.0,477.0ZM605.0,492.2 615.0,492.2 615.0,494.8 605.0,494.8ZM592.0,495.0 595.0,495.0 595.0,501.0 592.0,501.0ZM642.0,395.0 650.0,395.0 649.0,429.0 643.0,429.5ZM680.0,395.0 730.0,395.0 730.0,435.0 690.0,436.0 682.0,435.0 678.0,430.0ZM687.0,448.2 697.0,448.2 697.0,453.0 687.0,453.0Z"/>
<path clip-path="url(#c4)" d="M704.5,311.0 717.0,311.0 717.5,308.0 719.0,305.0 719.0,299.0 730.0,299.0 731.0,296.5 740.0,296.0 742.0,293.0 747.0,292.5 749.0,284.0 749.0,275.0 754.0,275.0 756.0,279.0 771.0,281.0 771.5,285.0 774.0,288.0 774.0,295.0 771.0,296.0 771.0,307.0 769.0,308.0 765.0,309.5 762.0,313.0 756.0,316.0 754.5,319.0 758.0,322.0 754.5,325.0 751.0,327.0 750.0,331.0 752.0,334.0 756.0,335.0 758.0,337.0 759.0,340.0 759.0,370.0 737.0,370.0 737.0,323.0 736.0,320.0 737.0,316.0 737.0,314.0 734.0,313.0 730.0,312.5 722.0,312.5 720.0,315.0 719.0,319.0 717.0,321.5 712.0,321.5 709.5,320.0 708.5,317.0 704.5,315.0ZM786.0,308.0 789.0,308.0 791.0,311.0 791.0,319.0 796.0,322.0 801.0,323.0 801.0,329.0 798.0,331.0 794.0,334.0 790.0,335.0 787.0,332.0 783.0,331.0 781.0,327.0 777.0,324.0 777.5,319.0 780.0,316.0 784.0,315.0 784.5,311.0Z"/>
<path clip-path="url(#c5)" d="M744.0,350.0 748.0,346.0 752.0,350.0 762.0,350.0 770.0,345.0 772.0,349.0 785.0,353.0 770.0,356.0 765.0,356.0 760.0,358.0 759.0,368.0 762.0,373.0 764.0,380.0 763.0,385.0 764.0,393.0 761.0,397.0 756.0,400.0 750.0,404.0 747.0,405.0 734.0,406.0 724.0,408.0 724.0,396.0 726.0,394.0 734.0,396.0 734.0,388.0 727.0,388.0 728.0,375.0 730.0,370.0 730.0,360.0 735.0,356.0 735.0,352.0 744.0,354.0ZM710.0,365.0 724.0,365.0 725.0,370.0 720.0,372.5 710.0,372.5ZM670.0,394.0 713.0,394.0 713.5,404.0 721.5,406.0 721.5,410.0 723.0,412.0 724.0,425.0 724.0,455.0 670.0,455.0ZM761.5,409.0 766.0,409.0 766.5,406.5 769.0,406.5 769.0,414.0 761.5,414.0ZM740.5,371.0 749.5,371.0 749.5,390.5 740.5,390.5ZM744.5,358.5 750.0,358.5 750.0,366.0 744.5,366.0Z"/>
<path clip-path="url(#c6)" d="M670.0,395.0 713.0,395.0 713.0,428.0 706.0,431.0 704.0,438.0 703.5,447.0 702.0,447.0 701.5,435.0 670.0,435.0ZM724.0,395.0 739.0,395.0 738.5,435.0 745.0,439.0 748.0,445.0 749.0,454.0 752.0,456.0 756.0,460.0 756.0,462.5 750.0,462.5 740.0,460.0 738.0,465.0 737.0,474.0 734.0,474.0 733.0,469.0 727.0,467.0 727.0,461.0 729.0,459.0 729.0,453.0 724.0,452.0 724.0,445.0 727.0,443.0 727.0,435.0 724.0,431.0ZM670.0,460.2 709.0,460.2 709.0,462.8 670.0,462.8ZM722.0,486.0 728.5,485.0 729.0,491.0 724.0,492.0 723.5,494.0 722.0,494.0Z"/>
<path clip-path="url(#c7)" d="M751.0,540.0 754.0,540.0 754.0,543.0 759.0,543.0 759.0,545.8 751.0,545.8ZM796.2,513.0 798.8,513.0 798.8,515.5 796.2,515.5Z"/>
<path clip-path="url(#c8)" d="M896.5,209.3 902.5,209.3 902.5,211.5 896.5,211.5ZM893.3,212.3 895.8,212.3 895.8,214.7 893.3,214.7Z"/>
<path clip-path="url(#c9)" d="M879.0,313.0 888.0,312.5 889.0,308.5 891.0,308.5 891.5,312.0 893.0,313.0 893.0,315.0 889.0,316.0 885.0,317.0 884.0,321.0 879.0,321.5 878.0,317.0Z"/>
<path clip-path="url(#c10)" d="M833.5,379.5 836.5,379.5 836.5,387.5 833.5,387.5Z"/>
<path clip-path="url(#c11)" d="M816.0,477.0 824.0,475.0 830.0,477.0 832.0,481.0 836.0,483.0 836.0,486.0 826.0,486.0 826.0,481.0 821.0,480.0 821.0,483.0 816.0,483.0Z"/>
<path clip-path="url(#c14)" d="M980.5,182.5 982.5,182.5 982.5,184.5 980.5,184.5ZM928.0,221.5 929.8,221.5 929.8,223.3 928.0,223.3Z"/>
<path clip-path="url(#c20)" d="M250.0,240.0 253.0,238.0 266.0,237.6 269.0,230.0 274.0,223.0 281.0,220.0 286.0,213.0 300.0,212.0 304.0,214.4 380.0,215.0 380.0,242.0 320.0,241.0 312.0,242.0 304.0,242.0 300.0,240.0 295.0,240.0 291.0,247.0 282.0,248.4 278.0,244.4 272.0,246.0 258.0,246.0 252.0,243.4ZM208.0,290.4 224.0,290.0 228.0,292.0 236.0,291.0 248.0,290.4 252.0,293.0 258.0,295.0 270.0,295.0 274.0,292.0 288.0,290.0 292.0,292.0 295.0,295.0 302.0,295.0 304.4,298.0 303.0,302.0 314.0,302.4 319.0,299.0 318.4,284.0 320.0,274.0 380.0,270.0 380.0,410.0 143.0,410.0 143.0,350.0 140.0,342.0 137.0,340.0 136.0,324.0 137.0,310.0 160.0,292.0 196.0,280.0ZM283.0,305.0 293.0,305.0 293.0,315.0 283.0,315.0Z"/>
<path clip-path="url(#c21)" d="M260.0,217.0 320.0,218.0 328.0,219.0 338.0,225.0 350.0,231.0 360.0,232.4 368.0,235.0 378.0,235.6 386.0,240.0 392.0,244.0 402.0,246.0 408.0,248.0 420.0,251.0 426.0,255.0 440.0,255.6 450.0,246.0 600.0,260.0 600.0,410.0 260.0,410.0 260.0,303.0 320.0,303.0 325.0,300.0 326.0,292.0 326.0,280.0 327.0,266.0 330.0,260.4 334.0,259.4 342.0,259.4 348.0,256.4 349.4,250.0 346.0,247.0 340.0,244.0 332.0,242.0 324.0,240.0 260.0,240.0ZM397.0,261.0 404.0,255.6 420.0,254.8 424.0,258.0 430.0,262.0 436.0,266.0 440.0,270.0 437.0,275.0 433.0,279.0 426.0,281.0 420.0,277.0 414.0,272.4 406.0,269.4 400.0,265.0Z"/>
<path clip-path="url(#c22)" d="M480.0,260.0 820.0,260.0 820.0,410.0 480.0,410.0Z"/>
<path clip-path="url(#c23)" d="M145.0,290.0 147.0,358.0 151.0,369.0 158.0,373.0 166.0,376.0 174.0,379.0 180.0,383.0 188.0,387.0 196.0,389.0 204.0,389.0 212.0,392.0 218.0,396.0 228.0,398.0 238.0,397.0 246.0,393.0 256.0,390.0 266.0,387.0 274.0,384.0 286.0,383.0 290.0,379.0 290.0,374.0 298.0,371.0 310.0,370.0 320.0,367.0 380.0,367.0 380.0,290.0Z"/>
<path clip-path="url(#c24)" d="M260.0,367.0 320.0,366.0 334.0,364.0 346.0,363.0 360.0,366.0 368.0,372.0 372.0,380.0 380.0,383.0 390.0,385.0 394.0,394.0 396.0,406.0 399.0,418.0 401.0,430.0 408.0,434.0 414.0,438.0 416.0,446.0 426.0,449.0 432.0,452.0 440.0,458.0 448.0,460.0 460.0,459.0 464.0,454.0 468.0,446.0 478.0,443.0 486.0,440.0 492.0,432.0 508.0,429.0 516.0,432.0 522.0,430.0 540.0,429.0 600.0,429.0 600.0,290.0 260.0,290.0Z"/>
<path clip-path="url(#c25)" d="M450.0,310.0 620.0,310.0 620.0,455.0 450.0,455.0Z"/>
<path clip-path="url(#c26)" d="M540.0,429.5 544.0,432.0 548.0,434.0 552.0,433.0 556.0,431.0 563.0,433.0 570.0,433.5 572.5,436.0 572.5,445.0 573.0,453.0 570.0,455.0 568.0,459.0 568.0,465.0 565.0,469.0 563.0,472.0 564.0,475.0 568.0,476.0 568.0,479.0 564.0,481.0 563.5,489.0 568.0,490.0 569.0,495.0 569.0,510.0 569.0,540.0 620.0,540.0 620.0,395.0 540.0,395.0ZM573.5,462.5 578.5,462.5 578.5,469.5 573.5,469.5Z"/>
<path clip-path="url(#c27)" d="M575.0,591.0 580.0,591.0 580.0,625.0 575.0,625.0Z"/>
<path clip-path="url(#c28)" d="M575.0,565.0 578.5,565.0 578.5,597.0 575.0,597.0Z"/>
</g>
<path clip-path="url(#c0)" d="M657.0,322.5 660.0,322.5 660.0,324.5 657.0,324.5Z" fill="#ff7e00"/>
<path clip-path="url(#c0)" d="M650.5,322.5 660.0,322.5 660.0,327.5 650.5,327.5Z" fill="#00dc00"/>
<path clip-path="url(#c1)" d="M617.2,409.2 625.0,409.2 625.0,411.8 617.2,411.8Z" fill="#7e0023"/>
<path clip-path="url(#c24)" d="M438.0,391.0 443.0,391.0 443.0,393.6 438.0,393.6Z" fill="#cd0064"/>
<path clip-path="url(#c26)" d="M580.0,486.5 590.0,486.5 590.0,495.0 580.0,495.0ZM569.0,462.0 574.0,462.0 574.0,471.0 569.0,471.0ZM587.0,445.0 590.0,445.0 590.0,459.0 587.0,459.0Z" fill="#cd0064"/>
<rect x="300" y="238" width="52" height="68" fill="#fff"/>
<g stroke="#00dc00" fill="none">
<path clip-path="url(#c33)" d="M235.0,195.0 405.0,195.0 405.0,340.0 235.0,340.0Z" stroke-width="12.6"/>
<path clip-path="url(#c33)" d="M235.0,245.5 274.0,244.5 278.0,242.5 281.0,246.0 289.0,246.0 292.0,240.0 302.0,240.0 303.0,243.0 313.0,242.0 314.0,239.5 324.0,239.5 326.0,243.0 332.0,242.5 339.0,243.0 341.0,246.0 349.0,248.0 349.0,256.0 344.0,258.0 333.0,259.5 331.0,265.0 329.0,268.0 326.0,270.0 326.5,279.0 323.0,281.0 322.0,287.0 324.0,291.0 324.0,298.0 326.0,299.0 323.0,302.0 314.0,303.0 302.0,303.0 299.0,297.0 303.0,295.0 294.0,293.0 289.0,292.0 281.0,292.0 272.0,294.0 235.0,295.0Z" stroke-width="8.2"/>
</g>
<g stroke="#ff7e00" fill="none">
<path clip-path="url(#c33)" d="M235.0,195.0 405.0,195.0 405.0,340.0 235.0,340.0Z" stroke-width="9.8"/>
<path clip-path="url(#c33)" d="M235.0,245.5 274.0,244.5 278.0,242.5 281.0,246.0 289.0,246.0 292.0,240.0 302.0,240.0 303.0,243.0 313.0,242.0 314.0,239.5 324.0,239.5 326.0,243.0 332.0,242.5 339.0,243.0 341.0,246.0 349.0,248.0 349.0,256.0 344.0,258.0 333.0,259.5 331.0,265.0 329.0,268.0 326.0,270.0 326.5,279.0 323.0,281.0 322.0,287.0 324.0,291.0 324.0,298.0 326.0,299.0 323.0,302.0 314.0,303.0 302.0,303.0 299.0,297.0 303.0,295.0 294.0,293.0 289.0,292.0 281.0,292.0 272.0,294.0 235.0,295.0Z" stroke-width="6.4"/>
</g>
<g stroke="#ff0000" fill="none">
<path clip-path="url(#c33)" d="M235.0,195.0 405.0,195.0 405.0,340.0 235.0,340.0Z" stroke-width="6.7"/>
<path clip-path="url(#c33)" d="M235.0,245.5 274.0,244.5 278.0,242.5 281.0,246.0 289.0,246.0 292.0,240.0 302.0,240.0 303.0,243.0 313.0,242.0 314.0,239.5 324.0,239.5 326.0,243.0 332.0,242.5 339.0,243.0 341.0,246.0 349.0,248.0 349.0,256.0 344.0,258.0 333.0,259.5 331.0,265.0 329.0,268.0 326.0,270.0 326.5,279.0 323.0,281.0 322.0,287.0 324.0,291.0 324.0,298.0 326.0,299.0 323.0,302.0 314.0,303.0 302.0,303.0 299.0,297.0 303.0,295.0 294.0,293.0 289.0,292.0 281.0,292.0 272.0,294.0 235.0,295.0Z" stroke-width="4.4"/>
</g>
<g stroke="#cd0064" fill="none">
<path clip-path="url(#c33)" d="M235.0,195.0 405.0,195.0 405.0,340.0 235.0,340.0Z" stroke-width="3.4"/>
<path clip-path="url(#c33)" d="M235.0,245.5 274.0,244.5 278.0,242.5 281.0,246.0 289.0,246.0 292.0,240.0 302.0,240.0 303.0,243.0 313.0,242.0 314.0,239.5 324.0,239.5 326.0,243.0 332.0,242.5 339.0,243.0 341.0,246.0 349.0,248.0 349.0,256.0 344.0,258.0 333.0,259.5 331.0,265.0 329.0,268.0 326.0,270.0 326.5,279.0 323.0,281.0 322.0,287.0 324.0,291.0 324.0,298.0 326.0,299.0 323.0,302.0 314.0,303.0 302.0,303.0 299.0,297.0 303.0,295.0 294.0,293.0 289.0,292.0 281.0,292.0 272.0,294.0 235.0,295.0Z" stroke-width="2.2"/>
</g>
<g fill="#7e0023" fill-rule="evenodd">
<path clip-path="url(#c33)" d="M235.0,195.0 405.0,195.0 405.0,340.0 235.0,340.0ZM235.0,245.5 274.0,244.5 278.0,242.5 281.0,246.0 289.0,246.0 292.0,240.0 302.0,240.0 303.0,243.0 313.0,242.0 314.0,239.5 324.0,239.5 326.0,243.0 332.0,242.5 339.0,243.0 341.0,246.0 349.0,248.0 349.0,256.0 344.0,258.0 333.0,259.5 331.0,265.0 329.0,268.0 326.0,270.0 326.5,279.0 323.0,281.0 322.0,287.0 324.0,291.0 324.0,298.0 326.0,299.0 323.0,302.0 314.0,303.0 302.0,303.0 299.0,297.0 303.0,295.0 294.0,293.0 289.0,292.0 281.0,292.0 272.0,294.0 235.0,295.0Z"/>
</g>
<rect x="540" y="441" width="100" height="86" fill="#fff"/>
<g stroke="#00dc00" fill="none">
<path clip-path="url(#c34)" d="M580.8,411.2 589.9,411.2 592.5,457.8 595.7,464.2 595.7,475.9 592.5,477.2 591.8,483.0 589.9,486.2 580.8,486.9 580.2,492.7 580.8,497.9 578.9,501.8 574.3,503.3 569.8,501.8 569.2,495.3 571.8,488.8 564.0,491.4 561.4,488.8 565.3,484.9 567.9,479.8 567.9,474.6 564.0,473.9 564.6,471.4 569.8,469.4 571.8,464.2 576.9,462.9 578.2,457.8ZM604.8,492.1 615.1,492.1 615.1,494.6 604.8,494.6Z" stroke-width="12.6"/>
<path clip-path="url(#c34)" d="M592.2,495.3 595.0,495.3 595.0,501.1 592.2,501.1Z" stroke-width="8.8"/>
<path clip-path="url(#c34)" d="M573.7,463.6 578.9,463.6 578.9,469.4 573.7,469.4Z" stroke-width="8.2"/>
<path clip-path="url(#c34)" d="M571.1,411.2 592.5,411.2 595.0,455.2 596.3,464.2 597.6,474.6 602.8,478.5 609.3,482.4 610.6,486.2 631.3,486.5 631.9,490.1 622.2,492.7 618.3,496.6 604.1,497.2 602.8,488.8 597.6,486.2 591.2,487.5 590.5,501.8 596.3,501.8 596.3,503.1 591.2,503.7 582.1,499.8 576.9,505.6 571.8,510.2 569.2,509.5 568.5,495.3 564.0,494.6 552.3,494.6 550.4,492.7 550.4,482.4 562.7,482.4 562.1,474.6 562.7,470.7 567.9,466.8 569.8,457.8Z" stroke-width="9.8"/>
<path clip-path="url(#c34)" d="M587.5,522.5 589.9,522.5 589.9,527.0 587.5,527.0Z" stroke-width="6.9"/>
<path clip-path="url(#c34)" d="M573.7,463.6 578.9,463.6 578.9,469.4 573.7,469.4Z" stroke-width="6.4"/>
<path clip-path="url(#c34)" d="M610.6,516.0 615.7,516.0 615.7,521.8 610.6,521.8Z" stroke-width="4.7"/>
</g>
<g stroke="#ff7e00" fill="none">
<path clip-path="url(#c34)" d="M580.8,411.2 589.9,411.2 592.5,457.8 595.7,464.2 595.7,475.9 592.5,477.2 591.8,483.0 589.9,486.2 580.8,486.9 580.2,492.7 580.8,497.9 578.9,501.8 574.3,503.3 569.8,501.8 569.2,495.3 571.8,488.8 564.0,491.4 561.4,488.8 565.3,484.9 567.9,479.8 567.9,474.6 564.0,473.9 564.6,471.4 569.8,469.4 571.8,464.2 576.9,462.9 578.2,457.8ZM604.8,492.1 615.1,492.1 615.1,494.6 604.8,494.6Z" stroke-width="9.8"/>
<path clip-path="url(#c34)" d="M592.2,495.3 595.0,495.3 595.0,501.1 592.2,501.1Z" stroke-width="6.9"/>
<path clip-path="url(#c34)" d="M573.7,463.6 578.9,463.6 578.9,469.4 573.7,469.4Z" stroke-width="6.4"/>
<path clip-path="url(#c34)" d="M571.1,411.2 592.5,411.2 595.0,455.2 596.3,464.2 597.6,474.6 602.8,478.5 609.3,482.4 610.6,486.2 631.3,486.5 631.9,490.1 622.2,492.7 618.3,496.6 604.1,497.2 602.8,488.8 597.6,486.2 591.2,487.5 590.5,501.8 596.3,501.8 596.3,503.1 591.2,503.7 582.1,499.8 576.9,505.6 571.8,510.2 569.2,509.5 568.5,495.3 564.0,494.6 552.3,494.6 550.4,492.7 550.4,482.4 562.7,482.4 562.1,474.6 562.7,470.7 567.9,466.8 569.8,457.8Z" stroke-width="6.7"/>
<path clip-path="url(#c34)" d="M587.5,522.5 589.9,522.5 589.9,527.0 587.5,527.0Z" stroke-width="4.7"/>
<path clip-path="url(#c34)" d="M573.7,463.6 578.9,463.6 578.9,469.4 573.7,469.4Z" stroke-width="4.4"/>
<path clip-path="url(#c34)" d="M610.6,516.0 615.7,516.0 615.7,521.8 610.6,521.8Z" stroke-width="2.4"/>
</g>
<g stroke="#ff0000" fill="none">
<path clip-path="url(#c34)" d="M580.8,411.2 589.9,411.2 592.5,457.8 595.7,464.2 595.7,475.9 592.5,477.2 591.8,483.0 589.9,486.2 580.8,486.9 580.2,492.7 580.8,497.9 578.9,501.8 574.3,503.3 569.8,501.8 569.2,495.3 571.8,488.8 564.0,491.4 561.4,488.8 565.3,484.9 567.9,479.8 567.9,474.6 564.0,473.9 564.6,471.4 569.8,469.4 571.8,464.2 576.9,462.9 578.2,457.8ZM604.8,492.1 615.1,492.1 615.1,494.6 604.8,494.6Z" stroke-width="6.7"/>
<path clip-path="url(#c34)" d="M592.2,495.3 595.0,495.3 595.0,501.1 592.2,501.1Z" stroke-width="4.7"/>
<path clip-path="url(#c34)" d="M573.7,463.6 578.9,463.6 578.9,469.4 573.7,469.4Z" stroke-width="4.4"/>
<path clip-path="url(#c34)" d="M571.1,411.2 592.5,411.2 595.0,455.2 596.3,464.2 597.6,474.6 602.8,478.5 609.3,482.4 610.6,486.2 631.3,486.5 631.9,490.1 622.2,492.7 618.3,496.6 604.1,497.2 602.8,488.8 597.6,486.2 591.2,487.5 590.5,501.8 596.3,501.8 596.3,503.1 591.2,503.7 582.1,499.8 576.9,505.6 571.8,510.2 569.2,509.5 568.5,495.3 564.0,494.6 552.3,494.6 550.4,492.7 550.4,482.4 562.7,482.4 562.1,474.6 562.7,470.7 567.9,466.8 569.8,457.8Z" stroke-width="3.4"/>
<path clip-path="url(#c34)" d="M587.5,522.5 589.9,522.5 589.9,527.0 587.5,527.0Z" stroke-width="2.4"/>
<path clip-path="url(#c34)" d="M573.7,463.6 578.9,463.6 578.9,469.4 573.7,469.4Z" stroke-width="2.2"/>
</g>
<g fill="#ff0000" fill-rule="evenodd">
<path clip-path="url(#c34)" d="M610.6,516.0 615.7,516.0 615.7,521.8 610.6,521.8Z"/>
</g>
<g stroke="#cd0064" fill="none">
<path clip-path="url(#c34)" d="M580.8,411.2 589.9,411.2 592.5,457.8 595.7,464.2 595.7,475.9 592.5,477.2 591.8,483.0 589.9,486.2 580.8,486.9 580.2,492.7 580.8,497.9 578.9,501.8 574.3,503.3 569.8,501.8 569.2,495.3 571.8,488.8 564.0,491.4 561.4,488.8 565.3,484.9 567.9,479.8 567.9,474.6 564.0,473.9 564.6,471.4 569.8,469.4 571.8,464.2 576.9,462.9 578.2,457.8ZM604.8,492.1 615.1,492.1 615.1,494.6 604.8,494.6Z" stroke-width="3.4"/>
<path clip-path="url(#c34)" d="M592.2,495.3 595.0,495.3 595.0,501.1 592.2,501.1Z" stroke-width="2.4"/>
<path clip-path="url(#c34)" d="M573.7,463.6 578.9,463.6 578.9,469.4 573.7,469.4Z" stroke-width="2.2"/>
</g>
<g fill="#cd0064" fill-rule="evenodd">
<path clip-path="url(#c34)" d="M571.1,411.2 592.5,411.2 595.0,455.2 596.3,464.2 597.6,474.6 602.8,478.5 609.3,482.4 610.6,486.2 631.3,486.5 631.9,490.1 622.2,492.7 618.3,496.6 604.1,497.2 602.8,488.8 597.6,486.2 591.2,487.5 590.5,501.8 596.3,501.8 596.3,503.1 591.2,503.7 582.1,499.8 576.9,505.6 571.8,510.2 569.2,509.5 568.5,495.3 564.0,494.6 552.3,494.6 550.4,492.7 550.4,482.4 562.7,482.4 562.1,474.6 562.7,470.7 567.9,466.8 569.8,457.8ZM587.5,522.5 589.9,522.5 589.9,527.0 587.5,527.0ZM573.7,463.6 578.9,463.6 578.9,469.4 573.7,469.4Z"/>
</g>
<g fill="#7e0023" fill-rule="evenodd">
<path clip-path="url(#c34)" d="M580.8,411.2 589.9,411.2 592.5,457.8 595.7,464.2 595.7,475.9 592.5,477.2 591.8,483.0 589.9,486.2 580.8,486.9 580.2,492.7 580.8,497.9 578.9,501.8 574.3,503.3 569.8,501.8 569.2,495.3 571.8,488.8 564.0,491.4 561.4,488.8 565.3,484.9 567.9,479.8 567.9,474.6 564.0,473.9 564.6,471.4 569.8,469.4 571.8,464.2 576.9,462.9 578.2,457.8ZM604.8,492.1 615.1,492.1 615.1,494.6 604.8,494.6ZM592.2,495.3 595.0,495.3 595.0,501.1 592.2,501.1ZM573.7,463.6 578.9,463.6 578.9,469.4 573.7,469.4Z"/>
</g>
</g>
<g shape-rendering="crispEdges">
<path clip-path="url(#w0)" d="M560.0,301.0 590.0,298.0 595.0,295.0 600.0,292.0 605.0,289.5 610.0,288.5 615.0,286.5 620.0,285.0 625.0,283.5 630.0,282.5 636.0,281.5 645.0,282.0 650.0,283.0 660.0,281.5 662.0,279.5 668.0,278.5 672.0,278.0 675.0,275.0 678.5,272.0 676.0,271.2 686.0,271.2 686.0,225.0 560.0,225.0Z" fill="#fff"/>
<path clip-path="url(#w5)" d="M840.0,310.0 789.0,310.0 786.0,344.0 783.0,350.0 783.0,353.0 785.0,357.0 790.0,363.0 794.0,365.0 802.0,369.0 840.0,370.0Z" fill="#fff"/>
<path clip-path="url(#w9)" d="M810.0,335.0 815.0,327.0 825.0,325.0 830.0,320.0 839.0,311.0 843.0,310.0 848.0,308.0 852.0,314.0 855.0,318.0 854.0,321.0 850.0,329.0 844.0,332.0 841.0,337.0 843.0,340.0 843.0,370.0 780.0,370.0 780.0,335.0ZM950.0,295.0 909.0,295.0 909.0,309.0 906.0,311.0 904.0,311.8 884.5,329.5 880.0,331.2 874.0,332.2 870.0,332.2 866.0,334.2 857.0,338.2 854.0,340.2 854.0,370.0 950.0,370.0Z" fill="#fff"/>
<path clip-path="url(#w10)" d="M817.0,381.0 825.0,373.0 832.5,368.5 837.0,373.5 852.0,374.5 859.5,376.5 870.0,370.0 870.0,360.0 810.0,360.0 810.0,381.0ZM859.5,376.5 858.0,382.0 855.5,385.5 853.0,383.0 850.0,382.5 844.0,386.5 833.0,389.5 831.0,396.0 828.0,400.0 840.0,410.0 870.0,400.0 870.0,376.5ZM838.5,350.5 843.0,350.0 848.0,346.0 854.0,343.0 858.0,340.0 870.0,340.0 870.0,355.0 838.5,355.0Z" fill="#fff"/>
<path clip-path="url(#w11)" d="M849.5,465.0 849.5,494.0 843.0,496.2 839.0,497.2 835.0,501.2 830.5,504.5 833.0,505.2 836.0,507.2 840.0,506.7 844.0,510.2 950.0,540.0 950.0,465.0Z" fill="#fff"/>
<path clip-path="url(#w13)" d="M963.0,153.0 969.0,157.0 977.0,164.5 981.2,164.5 981.2,200.0 1060.0,200.0 1060.0,145.0Z" fill="#fff"/>
<path clip-path="url(#w14)" d="M982.0,140.0 982.5,176.0 984.0,180.0 988.0,185.0 990.0,186.5 1060.0,186.5 1060.0,140.0Z" fill="#fff"/>
<path clip-path="url(#w18)" d="M392.0,570.0 406.0,568.0 416.0,565.6 424.0,557.0 430.0,555.0 440.0,547.0 449.0,542.0 490.0,542.0 490.0,580.0 392.0,580.0ZM310.0,560.0 391.6,560.0 391.6,572.0 310.0,572.0Z" fill="#fff"/>
<path clip-path="url(#w20)" d="M129.0,318.4 135.0,318.0 140.0,321.0 146.0,321.0 152.0,319.0 157.0,312.4 162.0,308.6 179.0,308.0 184.0,301.0 189.0,298.0 200.0,294.0 206.0,290.4 211.0,287.4 211.0,250.0 120.0,250.0 120.0,318.4Z" fill="#fff"/>
<path clip-path="url(#w21)" d="M371.0,225.0 372.4,229.0 382.0,232.4 393.0,234.4 404.0,234.4 412.0,235.6 420.0,239.0 426.0,242.4 432.0,247.0 438.0,249.0 443.6,249.0 444.4,253.6 448.0,257.0 452.0,264.0 458.0,271.0 460.0,276.0 472.0,277.4 480.0,278.0 486.0,277.4 504.0,279.6 518.0,278.0 526.0,278.4 540.0,280.0 540.0,240.0 371.0,210.0Z" fill="#fff"/>
<path clip-path="url(#w22)" d="M480.0,278.0 540.0,279.0 546.0,285.0 552.0,287.0 560.0,289.0 566.0,292.0 573.0,293.6 582.0,294.4 590.0,297.4 598.0,293.0 598.0,240.0 480.0,240.0Z" fill="#fff"/>
<path clip-path="url(#w27)" d="M450.0,550.0 493.8,550.0 494.5,566.0 495.0,572.0 494.5,580.0 450.0,580.0Z" fill="#fff"/>
<path clip-path="url(#w28)" d="M450.0,623.5 497.0,612.2 499.0,622.5 500.0,633.0 506.2,636.2 504.0,640.0 503.5,647.0 505.0,651.0 510.0,652.5 512.0,657.0 514.5,663.2 529.0,663.2 532.0,669.7 541.2,670.5 541.2,710.0 450.0,710.0ZM541.2,670.5 540.5,660.0 538.5,655.5 540.0,649.5 550.0,647.5 552.5,644.2 620.0,644.2 620.0,710.0 541.2,710.0Z" fill="#fff"/>
<path clip-path="url(#w30)" d="M836.0,590.0 839.0,601.4 844.0,599.4 849.0,601.4 852.0,590.0Z" fill="#fff"/>
<path clip-path="url(#c26)" d="M553.0,483.0 563.0,483.0 563.0,489.0 560.0,489.5 560.0,492.0 553.0,492.0ZM575.0,439.0 578.0,439.0 578.0,444.0 575.0,444.0ZM575.0,451.0 578.5,451.0 578.5,457.0 575.0,457.0ZM580.0,451.0 583.0,451.0 583.0,454.0 580.0,454.0Z" fill="#ffff00"/>
<path clip-path="url(#c34)" d="M553.4,483.0 563.0,483.0 563.0,488.8 560.1,489.5 560.1,492.1 553.4,492.1ZM575.0,451.3 578.9,451.3 578.9,457.1 575.0,457.1ZM579.8,451.3 582.9,451.3 582.9,454.1 579.8,454.1Z" fill="#ffff00"/>
</g>
<g fill="none" stroke="#000" stroke-width="1" shape-rendering="crispEdges" stroke-linejoin="round">
<path d="M590.0,298.0 595.0,295.0 600.0,292.0 605.0,289.5 610.0,288.5 615.0,286.5 620.0,285.0 625.0,283.5 630.0,282.5 636.0,281.5 645.0,282.0 650.0,283.0 660.0,281.5 662.0,279.5 668.0,278.5 672.0,278.0 675.0,275.0 678.5,272.0M685.0,265.5 688.0,264.0 692.0,263.5 695.0,260.5 698.0,258.5M668.0,337.5 673.0,338.0 676.0,340.0M678.0,340.0 683.0,336.0 685.0,335.0M686.0,338.0 689.0,334.5 696.0,334.5 698.0,330.0 700.0,327.5M614.0,340.0 617.0,338.5"/>
<path d="M590.0,373.0 595.0,370.0 600.0,368.5 603.0,364.0 602.5,360.0 604.5,358.0 604.0,352.0 606.0,347.0 608.5,344.0 610.0,340.0M619.0,340.0 617.5,343.0 620.5,345.5 619.0,349.0 616.0,351.5 615.0,359.0 619.0,361.5 624.0,362.5 627.0,365.0 629.0,367.0 632.0,367.5 636.0,368.0 638.0,371.0 643.0,370.0 648.0,369.0 648.5,365.0 652.0,363.0 650.0,360.0 652.0,356.0 654.0,352.0 660.0,349.0 663.0,345.0 665.0,342.0 670.0,340.0M629.0,367.0 626.0,369.0 626.0,373.0 624.5,377.0 626.0,380.0 630.0,384.5 634.0,386.5 638.0,388.5 641.0,391.0 646.0,393.5 647.5,396.0 647.0,400.0 644.0,403.0 644.5,406.0 645.5,414.0M624.5,380.0 616.0,380.0 614.0,383.0 614.5,387.0 612.0,390.0 614.0,394.0 613.5,397.0 619.0,398.0 620.0,400.5 618.0,404.0 614.0,406.0 613.5,410.0 614.0,413.0 611.5,415.0 609.0,412.0 605.0,410.0 602.0,407.0 598.0,405.0 596.0,402.5 598.0,399.0 595.5,394.0 593.0,389.0 595.0,386.0 590.0,381.5M684.0,340.0 683.0,345.0 681.0,349.0 680.0,352.5 677.0,357.0 675.0,360.0 675.0,364.0 678.0,368.0 679.0,372.0 677.0,375.0 675.0,378.0 673.0,381.0 672.0,385.0 673.0,389.0 674.0,393.0 674.5,398.0 675.0,402.0 676.0,406.0 675.0,411.0 672.0,416.0 671.0,420.0 670.0,425.0M614.0,425.0 613.5,420.0 614.0,418.0 620.0,417.5 624.0,421.0 630.0,420.0 634.0,419.0 632.0,416.0 630.0,414.0 638.0,414.5 645.5,414.0M700.0,414.0 696.0,417.0 690.0,420.0 686.0,422.0 682.0,425.0"/>
<path d="M612.0,425.0 610.0,428.0 616.0,431.0 616.0,434.0 613.0,436.0 612.5,443.0 614.0,446.0 610.0,445.0 605.0,444.5 603.0,449.0 601.0,450.0 605.0,452.0 605.0,456.0 600.0,459.0 597.0,458.0 590.0,463.0M600.0,459.0 606.0,459.5 610.0,462.5 617.0,461.0 622.0,461.5 624.0,466.0 627.0,464.5 630.0,467.0 634.0,471.0 642.0,469.5 646.0,471.5 650.0,474.0 655.0,479.0 660.0,479.5 664.0,483.0 669.0,485.0 669.5,495.0 668.0,496.0 663.0,495.0 658.0,499.0 656.0,501.0 652.0,499.5 647.0,502.0 642.0,503.0 644.0,508.0 644.0,510.0M642.0,469.5 640.0,475.0 644.0,479.5 640.0,484.0 636.0,490.0 637.0,493.0 632.0,496.5 628.0,496.0 627.0,503.0 623.0,508.0 620.0,510.0M658.5,453.0 660.0,452.0 667.0,452.5 675.0,451.5 678.0,453.5 682.5,452.0M672.0,427.0 676.0,437.0 682.0,446.0 682.5,452.0 688.0,459.0 696.0,465.0 700.0,467.0M658.5,453.0 663.0,455.0 664.0,458.0 669.0,459.5 670.0,463.0 666.0,464.0 661.0,464.5 660.0,468.0 661.0,473.0 661.0,479.5M598.0,507.0 603.0,504.0 608.0,506.0 613.0,505.0 616.0,508.0 617.0,510.0M678.0,509.0 680.0,508.5 681.0,510.0"/>
<path d="M602.0,510.0 601.0,514.0 596.0,518.0 594.0,520.0 597.0,524.0 601.0,526.5 603.0,530.0 607.0,531.5 610.0,535.0 611.5,539.0 617.0,539.5 618.0,536.5 623.0,531.5 627.0,531.0 628.0,526.0 632.0,526.5 635.0,530.0 641.0,528.0 642.0,535.0 646.0,536.5 647.0,540.0 648.0,544.0 652.0,544.5 654.0,540.0 656.0,535.0 655.5,528.0M644.0,510.0 644.5,514.0 650.0,519.5 655.5,528.0 660.0,518.0 665.0,515.5 672.0,517.5 676.0,515.0 675.0,511.0 682.0,510.5 690.0,511.0 694.0,514.0 700.0,517.0M655.5,528.0 657.0,543.0 657.0,548.0 659.0,553.0 658.0,557.0 653.0,559.0 650.0,564.0 652.0,564.5 656.0,563.5 660.0,567.0 657.0,572.0 657.0,578.0 659.0,583.0 659.0,584.5M659.0,584.5 663.0,586.0 667.0,581.5 671.0,585.0 676.0,579.0 682.0,578.0 686.0,580.0 686.5,586.0 689.0,587.5 687.0,592.0 687.0,595.0M659.0,584.5 655.0,589.0 651.0,589.0 646.0,593.0 640.0,594.0M590.0,546.5 594.0,547.0 594.5,552.0 600.0,554.0 609.0,552.0 611.0,548.0 608.0,544.5 603.0,544.5 600.0,540.0 601.0,537.0 606.0,534.5 610.0,538.0M590.0,559.0 594.0,558.0 595.0,553.0M620.0,593.0 624.0,591.5 626.0,593.5"/>
<path d="M700.0,324.0 703.0,322.0 706.0,323.0 708.0,324.5 712.0,321.0 717.0,320.0 721.0,321.0 724.0,319.0 726.0,317.0 728.5,315.0 730.0,313.0 729.0,311.0 726.0,308.0 727.0,305.0 728.0,302.0 726.5,300.0 731.0,298.5 732.0,294.0 735.0,292.0 735.5,288.5 740.0,288.0 741.5,290.0 741.0,295.0 743.0,297.5 747.0,298.5 752.0,295.0 757.0,292.0 760.0,293.5 764.0,291.0 769.0,290.5 772.0,289.0 771.5,285.0 774.0,282.5 779.0,281.5 783.0,279.5 786.0,280.0 788.0,283.0 790.0,286.0 794.0,289.5 794.5,292.5 792.0,295.0 793.0,299.0 796.0,302.5 801.0,303.0 808.0,302.5 810.0,302.0M769.0,308.0 765.0,310.0 760.0,315.0 756.0,317.0 754.5,319.0 758.0,321.5 756.0,324.0 751.0,326.5 750.0,331.5 752.0,334.0 756.0,335.0 759.0,336.0 762.0,335.0 765.0,336.0 768.0,334.0 772.0,334.0 775.0,333.0 776.0,330.0 777.0,327.0 776.0,325.0 779.0,324.0 778.0,320.0 779.0,317.0 781.0,315.5 778.0,314.0 774.0,313.0 770.0,310.0 769.0,308.0M778.0,324.0 782.0,324.0 786.0,327.0 785.0,331.0 783.0,333.0 786.0,335.0 789.0,336.0 790.0,340.0M810.0,305.5 806.0,308.0 803.0,312.0 806.0,315.0 809.0,317.0 810.0,317.5M734.5,321.0 735.5,325.0 735.0,331.0 733.5,335.0 734.5,340.0M728.5,325.0 726.5,327.0 729.0,329.5 733.0,329.5"/>
<path d="M735.0,340.0 734.0,342.0 730.0,343.0 726.0,344.5 724.5,348.0 724.0,352.0 721.5,355.0 721.0,358.0 724.0,361.0 727.0,366.0 730.0,370.0 728.0,375.0 726.0,380.0 724.0,384.0 722.0,388.0 721.0,390.0 723.0,394.0 723.0,400.0 722.0,405.0 721.0,409.0 710.0,415.0 700.0,414.5M723.0,394.0 730.0,396.0 738.0,398.0 744.0,399.0 750.0,400.0 749.0,396.0 748.0,390.0 752.0,385.0 756.0,380.0 760.0,377.0 764.0,373.0 770.0,368.0 780.0,366.5 783.0,362.5 786.0,362.0M750.0,400.0 749.0,403.0 752.0,404.0 756.0,402.0 760.0,400.0M749.0,404.0 747.0,409.0 743.0,413.0 740.0,419.0 744.0,420.0 749.0,422.0 751.0,425.0M786.0,344.0 783.0,350.0 783.0,353.0 785.0,357.0 790.0,363.0 794.0,365.0 802.0,369.0 802.0,376.0 806.0,379.0 809.0,381.0M790.0,340.0 792.0,343.0 796.0,344.5 800.0,344.0 806.0,341.5 807.0,340.0M764.0,422.0 768.0,420.0 772.0,420.0 775.0,423.0 776.0,425.0M802.0,419.0 808.0,417.0 810.0,418.0M769.0,344.0 772.0,349.0 776.0,352.0 782.0,352.5 783.0,346.0"/>
<path d="M750.0,425.0 752.0,427.0 760.0,427.0 764.0,431.0 768.0,434.0 769.0,438.0 765.0,441.0 762.0,443.5 759.0,440.0 755.0,437.0 752.0,438.0 752.0,442.0 753.0,445.0 749.0,447.0 749.0,451.0 746.0,454.0 742.0,455.0 743.0,457.0 746.0,458.0 747.0,462.0 752.0,466.0 757.0,465.0 758.0,473.0 758.0,477.0 754.0,479.0 750.0,483.0 751.0,487.0 755.0,490.0 759.0,493.0 756.0,497.0 755.0,501.0 758.0,506.0 760.0,510.0M764.0,425.0 770.0,429.0 774.0,434.0 780.0,437.0 785.0,438.0 786.0,442.0 792.0,442.5 790.0,448.0 789.0,451.0 792.0,454.0 794.0,459.0 797.0,461.0 800.0,460.5 801.0,458.0 804.0,456.5 807.5,458.0 808.0,464.0 805.0,466.0 800.0,463.5 798.5,465.0 800.0,468.0M776.0,427.0 780.0,428.0 784.0,429.0 787.0,427.0 792.0,426.0 794.0,430.0 798.0,426.0 800.0,425.0M700.0,467.5 705.0,466.0 710.0,468.0 716.0,466.5 720.0,468.5 724.0,466.5 725.0,473.0 727.0,477.0 733.0,479.0 738.0,479.5 742.0,482.0 746.0,482.0 750.0,487.0M796.0,476.0 800.0,481.0 804.0,484.0 801.0,487.0 806.0,488.0 810.0,487.0M810.0,499.0 808.5,501.0 810.0,503.0"/>
<path d="M700.0,518.0 704.0,517.0 708.0,515.0 713.0,516.0 715.0,519.5 720.0,515.0 724.0,519.0 723.0,526.0 725.0,528.0 728.0,528.0 730.0,533.0 730.0,539.0 732.5,542.0 728.0,546.0 725.0,549.0 724.0,553.0 721.5,557.0 723.0,560.0 726.5,559.5 725.0,564.0 726.5,567.0 726.0,572.0 729.5,574.0 729.0,580.0 731.0,581.5 728.5,584.0 729.0,588.0 727.0,590.0 728.0,595.0M725.0,528.0 733.0,523.0 740.0,522.5 746.0,520.0 749.0,516.0 753.0,513.5 758.0,516.5 762.0,514.5 766.0,513.0 770.0,512.0 773.0,510.0M769.0,517.0 772.0,515.0 776.0,513.0 778.0,512.5 783.0,518.0 789.0,519.5 792.0,521.5 790.0,526.0 793.0,532.0 796.5,536.0 796.5,542.0 795.0,543.5 790.0,548.0 785.0,551.0 783.0,548.5 779.0,549.5 775.0,555.0 776.5,560.0 775.0,564.0 769.0,567.0 767.0,571.0 768.5,576.0 765.0,579.0 766.5,582.0 761.0,587.0 759.0,595.0M795.0,543.5 800.0,542.5 801.0,546.0 802.0,550.0 803.0,556.0 807.0,558.5 810.0,558.0M792.0,521.5 800.0,517.0 803.0,513.0 804.0,510.0M714.0,595.0 716.0,593.5 718.0,594.0M804.0,594.5 809.0,594.5"/>
<path d="M810.0,189.5 814.0,194.0 818.0,198.0 819.5,202.0 817.0,205.0 814.0,206.5 810.0,206.5M890.0,170.0 890.5,175.0 889.0,178.5 887.0,175.0 886.0,171.0 882.0,173.0 876.0,177.5 870.0,181.5 867.0,185.0 860.0,188.5 857.0,192.5 859.0,195.0 863.0,198.0 865.0,203.0 869.0,203.5 871.0,199.0 875.0,199.5 875.5,204.0 870.0,205.0 866.0,207.5 866.0,210.0 869.0,213.0 880.0,212.0 882.0,218.0 882.0,221.0 887.0,227.0 895.0,227.0 900.0,228.0 907.0,227.0 909.0,230.0 914.0,233.0 920.0,231.5M869.0,213.0 863.0,215.5 862.0,218.0 864.0,221.0 861.0,222.5 857.0,218.5 854.0,219.5 850.0,218.0 848.0,216.5 849.0,221.0 852.0,226.0 854.5,231.0 852.5,233.0 853.0,240.0 855.5,249.0 861.0,249.0 867.0,244.5 870.0,250.0 872.5,251.0 872.0,255.0"/>
<path d="M810.0,284.0 813.0,283.5 816.0,286.0 820.0,293.0 822.0,296.0 825.0,292.0 830.0,288.0 836.0,286.0 840.0,283.0 844.0,281.5 848.0,280.5 851.0,278.0 854.0,277.5 857.0,276.0 862.0,276.5 866.0,275.5 870.0,273.0 874.0,271.5 876.0,268.0 877.0,265.0M872.0,255.0 874.0,260.0 872.0,263.0 878.0,264.5 882.0,268.0 887.0,273.0 894.0,272.0 898.0,280.0 901.0,285.0 903.0,288.0 901.5,295.0 904.0,300.0 908.5,305.0 908.5,309.0 906.0,311.0M810.0,335.0 815.0,327.0 825.0,325.0 830.0,320.0 839.0,311.0 843.0,310.0 848.0,308.0 852.0,314.0 855.0,318.0 854.0,321.0 850.0,329.0 844.0,332.0 841.0,337.0 843.0,340.0M854.0,340.0 857.0,338.0 866.0,334.0 870.0,332.0 874.0,332.0 880.0,331.0 884.0,330.0 904.0,339.0M823.5,309.5 827.0,307.5 833.0,306.2 835.0,308.0 836.0,311.0 833.0,312.0 829.0,311.5 827.0,313.5 825.0,312.0 823.5,309.5M810.0,317.0 814.0,319.0 816.0,324.0 820.0,326.0"/>
<path d="M810.0,381.5 817.0,381.0 825.0,373.0 832.5,368.5 837.0,373.5 852.0,374.5 859.5,376.5 858.0,382.0 855.5,385.5 853.0,383.0 850.0,382.5 844.0,386.5 833.0,389.5 831.0,396.0 828.0,400.0 823.0,402.0 815.0,408.0 810.0,417.0M821.0,397.0 825.0,396.5 825.0,399.0 822.0,399.5 821.0,397.0M838.5,350.5 844.0,345.0 850.0,342.0 856.0,340.0M838.5,350.5 843.0,350.0 848.0,346.0 854.0,343.0 857.0,340.0"/>
<path d="M810.0,425.0 816.0,428.5 823.0,431.0 825.0,433.0 826.5,440.0 829.0,445.0 831.0,450.0 832.5,456.0 834.0,464.0 840.0,467.0 843.0,470.0 845.0,473.0 848.0,480.5 841.0,477.0 837.0,478.0 839.0,481.0 845.0,484.0 848.0,488.0 849.5,494.0 843.0,496.0 839.0,497.0 835.0,501.0 830.0,504.5 833.0,505.0 836.0,507.0 840.0,506.5 844.0,510.0M810.0,487.5 815.0,490.0 818.0,489.5 822.0,494.0 827.0,495.0 833.0,491.0 835.0,489.0M810.0,499.0 813.0,497.0 815.0,491.0M917.0,425.0 918.5,428.0 920.0,430.0"/>
<path d="M844.0,510.0 850.0,512.0 852.0,513.0 850.0,518.0 850.0,525.0 845.0,527.0 844.0,532.0 843.5,540.0 841.0,544.0 837.0,543.0 835.0,548.0 831.0,554.0 829.0,560.0 826.0,566.0 822.0,570.0 816.0,572.0 815.0,580.0 814.0,586.0 810.0,594.0M810.0,557.0 813.5,554.0 815.5,557.0 816.0,562.0 820.0,560.0 824.0,559.0 825.0,563.0 822.0,570.0M843.0,520.0 848.0,519.0 850.0,518.0M810.0,564.5 814.0,568.0 816.0,572.0"/>
<path d="M924.0,119.5 926.0,123.5 929.0,127.0 931.5,130.5 932.5,134.0 932.0,137.0 935.0,138.5M934.5,143.0 936.0,147.0 940.0,151.0 943.0,151.0 945.0,152.5 949.0,151.0 951.5,150.5 954.5,151.5 955.0,153.5 957.0,153.0 959.0,155.5 963.0,155.0 964.5,153.5 967.0,156.5 969.0,157.0 972.0,159.5 977.0,164.5 981.0,164.5 981.2,170.0"/>
<path d="M982.0,170.0 982.5,176.0 984.0,180.0 988.0,185.0 990.0,186.5 995.0,185.0 999.0,186.0 1003.0,185.5 1008.0,184.5 1013.0,185.0 1014.0,182.0 1019.0,179.0 1023.0,178.0 1029.0,177.5M920.0,231.5 924.0,232.5 927.0,234.0 928.0,238.0 927.5,242.0 933.0,242.5 936.0,244.0 935.0,247.0 937.0,250.0 940.0,252.5 944.0,252.0 943.5,248.0 948.0,244.5 950.0,249.0 952.0,255.0M1001.0,229.5 1003.0,229.5M1011.0,232.2 1012.0,232.8M1020.0,230.0 1021.0,227.5M1026.0,219.5 1027.0,219.0M1029.0,214.5 1030.0,214.5M970.0,254.0 972.0,253.5M976.0,253.0 979.0,252.5"/>
<path d="M952.0,255.0 954.0,260.0 956.0,262.5 961.0,262.5 961.5,257.5 970.0,256.0 973.0,255.0M978.0,257.0 982.0,261.0 986.0,264.5 991.0,264.5M1000.5,267.5 1008.5,267.5 1008.5,274.0 1014.0,276.0 1020.0,278.5 1025.0,276.5 1030.0,276.5M1000.5,267.5 997.0,272.0 994.0,277.0 992.0,280.0 986.5,280.5 984.0,285.0 982.5,287.0 975.0,289.5 970.0,295.0 966.5,298.5 967.0,302.0 968.5,304.0 968.5,312.5 959.5,316.0 953.0,322.0 946.5,326.5 940.0,328.5 932.5,330.5 933.0,334.0 935.5,336.0 934.0,339.0M943.5,290.5 953.0,290.0 954.5,289.5 957.5,289.0 961.0,286.0 962.0,283.0 965.0,282.5 969.0,282.0 970.0,278.5 970.5,274.0 972.0,272.5 975.0,272.5 977.5,273.5 977.5,276.5 979.0,279.0 980.0,280.0 979.0,277.5 984.0,275.0 989.0,273.5M943.5,290.5 944.0,295.0 945.5,296.5M920.0,299.0 922.5,296.5 924.5,295.5 922.0,297.5"/>
<path d="M639.5,70.5 632.0,78.0 620.0,88.5 605.0,97.5 594.5,109.5 569.0,114.0 581.0,119.4 593.0,117.0 603.5,114.0 609.5,103.5 620.0,98.4 635.0,93.6 644.0,85.5 650.0,81.0M319.4,158.1 327.5,157.5 326.0,163.5 332.0,171.0 339.5,177.0 346.1,180.0"/>
<path d="M640.0,90.0 649.0,81.0 658.0,70.5M824.5,90.0 832.0,84.0 844.0,81.0 856.0,79.5 868.0,78.6 880.0,79.5 886.0,84.0 898.0,85.5 907.0,88.5 913.0,94.5 917.5,102.0 919.0,106.5M845.5,82.5 847.0,88.5 838.0,94.5 850.0,99.0 862.0,100.5 863.5,111.0 868.0,118.5 880.0,120.0 892.0,117.0 901.0,113.4 908.5,117.0 913.0,124.5 908.5,135.0 902.5,141.0 899.5,150.0 898.0,159.0 892.0,166.5 887.5,172.5 889.9,170.1M772.9,148.5 787.0,152.1 796.0,147.0 803.5,143.4 809.5,141.0 811.0,138.6M816.4,123.0 816.7,123.6M762.4,182.1 762.7,182.4M798.4,180.0 799.0,180.6M806.5,186.0 812.5,192.0 819.4,200.4 817.6,205.5 811.0,206.4M779.5,209.1 787.0,207.0M748.0,228.0 755.5,226.5 763.0,222.0 763.6,216.0M698.5,233.4 709.0,237.6 721.0,240.0 728.5,235.5 733.0,234.0"/>
<path d="M448.0,542.0 454.0,545.0 460.0,546.0 466.0,550.0 470.0,552.0 474.0,548.0 474.0,543.0 478.0,540.0M392.0,563.0 392.4,567.0M393.0,569.0 406.0,567.6 416.0,565.0 420.0,561.0 424.0,556.4 430.0,555.0 436.0,550.0 440.0,546.0 448.0,542.0M476.0,537.6 479.0,540.0M370.0,654.0 376.0,649.0 383.0,644.4 387.0,652.0 390.0,664.0 393.0,674.0 398.0,680.0 400.0,684.0"/>
<path d="M810.0,598.0 806.0,603.0 800.0,609.0 792.0,615.0 782.0,621.0 776.0,629.0 770.0,635.0 762.0,641.0 750.0,644.0 738.0,645.0 732.0,652.0 726.0,647.0 722.0,645.0 721.0,654.0 716.0,649.0 710.0,659.0 702.0,662.0 694.0,664.0 686.0,667.0 678.0,670.0 672.0,671.0 670.0,675.0 672.0,683.0 674.0,687.0 670.0,689.0 664.0,684.0 662.0,677.0 663.0,671.0 658.0,668.0 650.0,664.0 644.0,663.0 636.0,666.0 626.0,672.0 616.0,681.0 614.0,687.0 604.0,695.0 600.0,707.0 600.0,715.0 604.0,723.0 610.0,731.0M660.0,697.0 682.0,696.0 682.0,703.0 676.0,711.0 674.0,717.0 666.0,725.0 658.0,727.0 650.0,725.0 646.0,719.0 647.0,707.0 652.0,703.0 660.0,697.0M622.0,595.0 620.0,598.0 610.0,603.0 602.0,606.0 596.0,605.0 590.0,606.0M590.0,614.0 596.0,617.0 602.0,621.0 608.0,620.0 608.0,627.0 604.0,631.0 606.0,638.0M594.0,632.0 596.0,632.6M613.0,640.6 615.6,641.4M616.0,653.0 617.0,657.0 622.0,661.0M625.0,595.0 630.0,599.0 638.0,600.0 644.0,595.0M680.0,595.0 684.0,597.0 682.0,603.0 688.0,606.0 690.0,610.0 698.0,609.0 699.0,615.0 694.0,621.0 692.0,627.0 688.0,632.0 688.0,639.0 684.0,645.0 678.0,648.0 676.0,654.0 672.0,655.0 670.0,661.0 665.0,663.0 662.0,668.0M702.0,595.0 700.0,600.0 706.0,604.0 710.0,601.0 718.0,604.0 726.0,601.0 734.0,603.0 738.0,607.0 732.0,610.0 736.0,612.0 742.0,611.0 750.0,610.0 756.0,605.0 757.0,599.0 760.0,595.0M756.0,605.0 766.0,608.0 772.0,615.0 773.0,623.0 774.0,630.0 780.0,625.0M802.0,595.0 800.0,601.0 799.0,607.0"/>
<path d="M107.0,225.6 110.0,216.0 120.0,210.0 127.0,203.4 133.0,205.0 147.0,204.0 160.0,205.6 172.0,205.0 180.0,205.6 188.0,203.4 195.6,203.6 193.0,207.0 188.0,210.0 180.0,211.4 174.0,211.0 166.0,207.0 160.0,209.6 154.0,209.0 148.0,206.4 133.0,209.6 128.0,215.0 118.0,217.6 118.4,230.0 117.0,236.6 112.0,231.0 107.0,225.6M256.0,195.0 264.0,198.0 270.0,199.4 280.0,199.0 288.0,198.0 294.0,195.6 294.4,192.4M295.0,172.8 304.0,171.0 310.0,168.0 312.0,164.0 312.6,159.6 320.0,159.0 327.4,158.0M248.6,209.6 249.6,206.0M210.0,234.4 220.0,232.4 232.0,229.4M235.0,229.0 238.0,231.0 247.0,231.6M213.4,248.4 215.0,255.0M217.0,261.0 219.4,266.0 219.4,269.0 215.0,271.0 213.0,274.0 216.4,274.4M211.4,281.0 211.6,287.0M211.0,287.4 206.0,290.4 200.0,294.0 189.0,298.0 184.0,301.0 179.0,308.0 162.0,308.6 157.0,312.4 155.0,317.0 152.0,319.0 146.0,321.0 141.0,321.0 139.0,318.4 129.0,318.4M120.0,325.0 122.4,324.0M113.6,332.4 112.0,336.4M112.4,345.0 112.6,347.6"/>
<path d="M346.0,180.0 354.0,180.0 360.0,183.0 366.0,187.0 369.0,194.0 375.0,199.0 377.0,204.0 376.0,210.0 375.0,216.0 373.0,220.0 371.0,225.0 372.4,229.0 382.0,232.4 393.0,234.4 404.0,234.4 412.0,235.6 420.0,239.0 426.0,242.4 432.0,247.0 438.0,249.0 443.6,249.0 444.4,253.6 448.0,257.0 452.0,264.0 458.0,271.0 460.0,276.0 472.0,277.4 480.0,278.0 486.0,277.4 504.0,279.6 518.0,278.0 526.0,278.4 540.0,280.0M458.0,276.0 453.6,280.0 453.6,288.0 452.0,292.0 438.0,294.4 431.0,298.0 426.0,302.0 421.0,308.0 418.0,313.0 414.0,318.0 406.0,319.0 405.0,326.0 402.0,330.0 404.0,336.0 405.6,343.0M470.0,277.4 474.0,286.0 480.0,296.0 477.0,301.0 480.0,305.0 488.0,310.0 489.0,317.6 493.0,317.6 498.0,313.0 506.0,311.0 515.0,310.4 518.0,316.0 512.0,324.0 506.0,329.0 512.0,332.0 518.0,338.0 524.0,340.0 530.0,346.0 535.0,350.0M467.0,350.0 468.0,343.0 478.0,344.0 484.0,348.0 490.0,345.6 494.0,345.0 500.0,350.0M382.0,350.0 394.0,345.0 406.0,342.4 424.0,339.6 440.0,343.0 450.0,350.0"/>
<path d="M540.0,279.0 546.0,285.0 552.0,287.0 560.0,289.0 566.0,292.0 573.0,293.6 582.0,294.4 590.0,297.4M540.0,344.0 550.0,341.6 560.0,339.0 570.0,337.4 577.0,339.0 578.0,344.0 575.0,350.0"/>
<path d="M190.0,434.0 192.0,430.0 204.0,429.0 208.0,418.0 214.0,410.0 220.0,413.0 228.0,412.0 233.0,415.0 238.0,412.0 244.0,407.0 250.0,407.0 256.0,412.0 264.0,413.0 272.0,412.0 280.0,407.0 288.0,405.0 292.0,407.0 300.0,404.0 303.0,398.0 312.0,396.0 320.0,394.0M189.0,438.0 188.0,442.0 189.6,443.0M189.0,448.0 193.6,451.6M197.0,460.0 197.0,465.0 192.0,468.4 189.0,466.0M184.0,469.4 184.8,469.4M189.4,481.4 189.8,481.4M238.0,504.4 239.6,505.2M126.0,354.4 128.4,356.0 128.6,358.0M145.0,391.4 146.4,393.6 145.6,395.6 146.6,397.6M130.0,374.4 130.6,374.6M117.4,351.4 117.8,351.6"/>
<path d="M362.0,357.0 368.0,354.0 378.0,350.0M362.0,357.0 365.0,364.0 370.0,370.0 376.0,374.0 380.0,382.0 374.0,383.0 371.0,386.0 372.0,390.0 377.0,393.0 377.0,399.0 373.0,400.0 367.0,398.0 361.0,396.0 358.0,399.0 351.0,400.0 352.0,403.0 357.0,404.0 356.0,410.0 352.0,414.0 355.0,420.0 358.0,423.0 357.0,434.0 355.0,437.0 360.0,443.0 364.0,446.0 367.0,454.0 373.0,454.0 381.0,451.0 386.0,457.0 396.0,459.0 400.0,461.0 408.0,462.0 416.0,465.0 424.0,465.0 431.0,463.0 437.0,468.0 442.0,470.0 443.0,476.0 448.0,479.0 454.0,480.0 456.0,483.0 458.0,477.0 464.0,478.0 464.0,474.0 472.0,470.0 474.0,465.0M320.0,393.0 328.0,393.0 338.0,392.4 344.0,395.0 351.0,398.0M474.0,465.0 473.0,458.0 478.0,448.0 475.0,444.0 474.0,440.0 480.0,438.0 486.0,440.0 490.0,442.0 494.0,448.0 496.0,452.0 502.0,456.0 508.0,461.0 512.0,458.0 518.0,462.0 524.0,464.0 530.0,462.0 532.0,456.0 530.0,452.0 537.0,452.0 540.0,450.0M474.0,465.0 480.0,465.0 486.0,468.0 490.0,478.0 496.0,486.0 492.0,488.0 496.0,496.0 498.0,506.0 500.0,520.0M526.0,432.0 530.0,434.0 528.0,436.0 532.0,440.0 536.0,444.0 540.0,444.0M526.0,432.0 532.0,431.0 540.0,434.0M450.0,350.0 460.0,354.0 464.0,357.0 468.0,357.0 467.0,350.0M502.0,350.0 508.0,354.0 516.0,358.0 518.0,356.0 522.0,360.0 532.0,365.0 540.0,370.0"/>
<path d="M540.0,343.0 541.5,344.0 548.0,342.5 551.5,341.5 555.0,343.5 560.0,343.5 563.0,341.5 565.0,340.0M575.0,340.0 576.0,342.0 578.5,344.5 576.0,348.0 572.5,353.0 567.0,356.0 567.5,361.0 565.5,363.0 565.5,365.5 569.0,368.0 573.0,370.5 578.0,375.0 581.0,373.5 585.0,373.0 590.0,372.0M583.0,373.5 585.0,377.0 590.0,380.0M539.0,371.0 542.0,372.0 544.0,369.0 545.0,372.0 550.0,377.0 553.5,378.5 551.5,381.0 553.0,386.0 556.0,390.0 557.0,394.0 560.0,397.0 558.0,400.0 559.0,402.0 555.0,405.0 554.0,409.0 549.0,411.5 550.0,416.0 544.0,421.0 541.0,424.5"/>
<path d="M540.0,453.5 542.5,454.5 546.0,450.0 550.0,448.5 551.5,446.5 550.0,443.0 548.0,441.0 549.0,438.0 552.0,437.0 555.0,433.0 557.5,431.5 560.0,433.5 562.0,437.0 563.0,442.0 567.0,442.5 570.0,443.5 576.0,443.5 578.0,447.0 581.0,450.0 581.0,454.0 580.0,458.0 583.0,461.0 586.0,462.5 590.0,463.0M540.0,436.0 542.0,434.0 543.0,431.0 544.0,428.0 542.5,426.0M540.0,446.0 540.0,450.0 542.5,454.5M544.0,428.0 548.0,431.0"/>
<path d="M499.5,510.0 498.5,516.0 499.5,525.0 500.5,536.0 502.5,543.0 504.5,545.0 504.0,538.0 507.0,534.0 509.0,532.5 512.0,536.5 514.5,540.0 516.0,543.0 514.5,547.0 518.0,551.5 521.0,551.0 524.0,550.0 527.0,555.0 530.0,562.0 532.0,566.0 536.0,570.0 536.0,574.0 539.0,579.0 542.0,583.5 546.5,583.5 548.0,580.0 553.0,578.5 559.0,578.5 560.5,575.0 559.0,569.0 557.5,560.0 562.0,557.0 567.0,552.0 568.0,548.0 567.0,545.0 570.0,543.5 572.5,540.0 572.5,536.0 578.0,536.0 581.5,537.0 580.0,541.0 582.0,545.0 580.0,548.0 583.0,550.0 588.0,550.0 590.0,547.5M499.5,525.0 497.0,527.0 495.0,529.5 493.0,533.0 493.0,537.0 495.0,542.0 492.0,545.0 489.0,546.0 487.0,542.0 485.0,545.0 480.0,542.0M486.0,551.0 487.0,556.0M489.5,554.0 493.0,555.0 494.0,560.0 494.5,566.0 495.0,572.0 494.5,578.0M494.5,581.5 494.7,582.5M493.0,587.5 490.0,591.0 488.5,593.5M568.5,565.5 571.0,563.0 574.5,558.5 577.5,560.5 581.0,558.0 585.0,560.0 590.0,560.0M568.5,565.5 571.0,569.0 572.0,574.0 575.0,575.5 578.0,573.0 582.0,573.0 585.5,577.0 583.0,582.0 581.0,586.0 582.0,592.0 583.0,595.0"/>
<path d="M506.5,638.0 504.0,642.0 503.5,646.0 505.0,649.5M512.0,657.0 513.5,660.0 514.5,663.5 516.0,663.5M530.0,662.5 531.5,666.0 532.0,669.5 533.0,670.5M540.0,649.5 538.5,655.0 540.0,660.0 540.7,665.0 541.0,671.0M550.0,647.5 552.5,644.2 551.2,643.2M562.5,647.0 564.5,644.0 565.5,643.5M569.0,643.5 569.5,643.7M587.5,637.5 588.5,636.3M584.0,595.0 587.0,599.5 584.0,601.0 583.0,605.0 582.5,610.0 585.5,611.0 589.0,607.5M583.0,610.0 585.0,614.5 588.0,614.0M537.5,671.5 537.7,671.7"/>
<path d="M263.5,731.0 274.0,726.5 283.0,710.0 292.0,700.4 304.0,696.5 313.0,686.0 314.5,671.0 328.0,663.5 332.5,657.5 333.4,666.5 340.0,667.4 355.0,663.5 364.0,662.0 371.5,653.0M400.0,683.6 406.0,692.0 412.0,699.5 416.5,707.0 421.0,714.5 425.5,719.0 428.5,731.0M238.0,504.5 238.9,505.1M342.4,548.0 343.6,550.4"/>
<path d="M839.0,601.6 844.0,599.6 849.0,601.6 850.0,610.0 848.0,617.0 845.0,624.0 844.0,632.0 841.0,640.0 837.0,646.0 835.0,650.0 833.6,657.6 832.0,658.0 830.4,650.0 825.0,647.0 823.0,640.0 822.0,628.0 827.0,620.0 831.0,612.0 835.0,605.0 839.0,601.6M828.0,731.0 830.4,722.4 836.4,721.6 840.0,725.0 845.0,727.6 850.0,727.4 855.6,722.4 854.6,731.0"/>
<path d="M880.0,330.0 890.0,334.0 903.6,338.4 898.0,352.0 892.4,362.4 901.6,370.4 913.0,368.6 920.6,375.0 923.4,383.0 914.4,384.4 923.0,402.0 923.6,406.0 916.4,413.0 916.4,424.0 920.6,431.6 930.0,425.6 938.0,422.4 950.0,421.0 959.6,416.6 963.0,406.0 964.4,394.0 963.0,384.0 961.0,375.0 955.0,365.0 950.0,360.0 946.0,352.0 940.0,346.0 932.4,341.6 935.6,337.0 932.4,331.0M1050.0,406.4 1034.0,408.6 1016.0,410.6 1008.0,418.0 1002.0,423.0 996.0,428.0 988.0,431.0 987.4,439.6 989.0,443.0 997.0,443.6 998.0,450.0 1002.4,460.0 998.0,470.0 994.4,479.0 994.0,485.0 985.0,491.0 975.6,489.0 975.6,474.0 981.6,468.0 981.0,461.0 977.4,455.0 976.0,460.0 969.0,460.4 965.6,452.0 974.0,447.0 981.0,440.6 987.4,439.6 996.0,438.4 1004.0,439.6 1008.0,433.6 1020.0,431.0 1032.0,428.0 1042.0,422.6 1050.0,423.4M1008.0,449.0 1016.0,444.0 1016.4,438.0 1024.0,439.6 1029.0,433.0 1035.0,432.0 1044.0,434.4 1044.4,441.0 1036.0,451.0 1030.4,446.4 1022.0,452.0 1019.0,460.0 1012.0,459.0 1008.0,454.0 1008.0,449.0"/>
<path d="M1028.6,177.3 1035.5,176.7M1043.6,175.9 1046.4,174.5 1047.7,177.8 1045.0,181.4M1043.6,188.2 1040.9,190.9 1036.0,196.4M1032.7,204.6 1032.2,207.3M1030.8,211.4 1028.6,218.2M1025.9,221.5 1021.8,226.4 1020.5,229.6M1000.0,229.1 1002.7,229.6M1010.9,231.8 1012.3,232.4M1028.6,276.8 1038.2,271.4 1049.1,265.9"/>
</g>
<g fill="none" stroke="#8200dc" stroke-width="2.0">
<circle cx="692.0" cy="312.0" r="5.0"/>
<circle cx="609.5" cy="355.0" r="5.0"/>
<circle cx="650.5" cy="432.0" r="5.0"/>
<circle cx="613.0" cy="518.5" r="5.0"/>
<circle cx="616.2" cy="574.0" r="5.0"/>
<circle cx="765.0" cy="328.0" r="5.0"/>
<circle cx="705.5" cy="366.0" r="5.0"/>
<circle cx="736.0" cy="363.0" r="5.0"/>
<circle cx="777.0" cy="343.0" r="5.0"/>
<circle cx="774.0" cy="388.0" r="5.0"/>
<circle cx="722.0" cy="423.8" r="5.0"/>
<circle cx="778.0" cy="476.5" r="5.0"/>
<circle cx="801.0" cy="473.5" r="5.0"/>
<circle cx="733.0" cy="501.0" r="5.0"/>
<circle cx="712.5" cy="544.0" r="5.0"/>
<circle cx="757.0" cy="535.0" r="5.0"/>
<circle cx="808.5" cy="583.0" r="5.0"/>
<circle cx="872.5" cy="293.5" r="5.0"/>
<circle cx="902.0" cy="257.0" r="5.0"/>
<circle cx="842.5" cy="488.0" r="5.0"/>
<circle cx="822.5" cy="506.0" r="5.0"/>
<circle cx="921.0" cy="220.5" r="5.0"/>
<circle cx="641.0" cy="642.4" r="5.0"/>
<circle cx="716.0" cy="636.6" r="5.0"/>
<circle cx="671.6" cy="694.0" r="5.0"/>
<circle cx="325.0" cy="257.0" r="5.0"/>
<circle cx="377.0" cy="511.0" r="5.0"/>
<circle cx="539.0" cy="390.0" r="5.0"/>
<circle cx="570.5" cy="400.0" r="5.0"/>
<circle cx="575.0" cy="498.0" r="5.0"/>
<circle cx="555.0" cy="602.0" r="5.0"/>
</g>
</g>
<g shape-rendering="crispEdges" fill="#000">
<rect x="99" y="68" width="952" height="2"/>
<rect x="99" y="68" width="2" height="664"/>
<rect x="99" y="731" width="952" height="1"/>
<rect x="1050" y="68" width="1" height="664"/>
<rect x="130" y="732" width="1" height="6"/>
<rect x="207" y="732" width="1" height="6"/>
<rect x="283" y="732" width="1" height="6"/>
<rect x="360" y="732" width="1" height="6"/>
<rect x="437" y="732" width="1" height="6"/>
<rect x="513" y="732" width="1" height="6"/>
<rect x="590" y="732" width="1" height="6"/>
<rect x="667" y="732" width="1" height="6"/>
<rect x="743" y="732" width="1" height="6"/>
<rect x="820" y="732" width="1" height="6"/>
<rect x="897" y="732" width="1" height="6"/>
<rect x="973" y="732" width="1" height="6"/>
<rect x="1050" y="732" width="1" height="6"/>
<rect x="94" y="695" width="5" height="1"/>
<rect x="94" y="603" width="5" height="1"/>
<rect x="94" y="511" width="5" height="1"/>
<rect x="94" y="419" width="5" height="1"/>
<rect x="94" y="327" width="5" height="1"/>
<rect x="94" y="235" width="5" height="1"/>
<rect x="94" y="143" width="5" height="1"/>
</g>
<g fill="#000">
<text class="lat" x="114.8" y="756" font-size="19.5" textLength="31.5" lengthAdjust="spacing">75E</text>
<text class="lat" x="191.4" y="756" font-size="19.5" textLength="31.5" lengthAdjust="spacing">80E</text>
<text class="lat" x="268.1" y="756" font-size="19.5" textLength="31.5" lengthAdjust="spacing">85E</text>
<text class="lat" x="344.8" y="756" font-size="19.5" textLength="31.5" lengthAdjust="spacing">90E</text>
<text class="lat" x="421.4" y="756" font-size="19.5" textLength="31.5" lengthAdjust="spacing">95E</text>
<text class="lat" x="492.8" y="756" font-size="19.5" textLength="42" lengthAdjust="spacing">100E</text>
<text class="lat" x="569.5" y="756" font-size="19.5" textLength="42" lengthAdjust="spacing">105E</text>
<text class="lat" x="646.2" y="756" font-size="19.5" textLength="42" lengthAdjust="spacing">110E</text>
<text class="lat" x="722.8" y="756" font-size="19.5" textLength="42" lengthAdjust="spacing">115E</text>
<text class="lat" x="799.5" y="756" font-size="19.5" textLength="42" lengthAdjust="spacing">120E</text>
<text class="lat" x="876.2" y="756" font-size="19.5" textLength="42" lengthAdjust="spacing">125E</text>
<text class="lat" x="952.8" y="756" font-size="19.5" textLength="42" lengthAdjust="spacing">130E</text>
<text class="lat" x="1029.5" y="756" font-size="19.5" textLength="42" lengthAdjust="spacing">135E</text>
<text class="lat" x="54.5" y="702.2" font-size="19.5" textLength="33.5" lengthAdjust="spacing">20N</text>
<text class="lat" x="54.5" y="610.2" font-size="19.5" textLength="33.5" lengthAdjust="spacing">25N</text>
<text class="lat" x="54.5" y="518.2" font-size="19.5" textLength="33.5" lengthAdjust="spacing">30N</text>
<text class="lat" x="54.5" y="426.2" font-size="19.5" textLength="33.5" lengthAdjust="spacing">35N</text>
<text class="lat" x="54.5" y="334.2" font-size="19.5" textLength="33.5" lengthAdjust="spacing">40N</text>
<text class="lat" x="54.5" y="242.2" font-size="19.5" textLength="33.5" lengthAdjust="spacing">45N</text>
<text class="lat" x="54.5" y="150.2" font-size="19.5" textLength="33.5" lengthAdjust="spacing">50N</text>
</g>
<g shape-rendering="crispEdges">
<rect x="270" y="761" width="80" height="30" fill="#00dc00"/>
<rect x="350" y="761" width="80" height="30" fill="#ff7e00"/>
<rect x="430" y="761" width="80" height="30" fill="#ff0000"/>
<rect x="510" y="761" width="80" height="30" fill="#cd0064"/>
<rect x="590" y="761" width="80" height="30" fill="#7e0023"/>
<rect x="670" y="761" width="80" height="30" fill="#ffff00"/>
<rect x="750" y="761" width="80" height="30" fill="#ffff00"/>
<rect x="270.5" y="760.5" width="560" height="31" fill="none" stroke="#000" stroke-width="1"/>
<rect x="350" y="761" width="1" height="30" fill="#000"/>
<rect x="430" y="761" width="1" height="30" fill="#000"/>
<rect x="510" y="761" width="1" height="30" fill="#000"/>
<rect x="590" y="761" width="1" height="30" fill="#000"/>
<rect x="670" y="761" width="1" height="30" fill="#000"/>
<rect x="750" y="761" width="1" height="30" fill="#000"/>
</g>
<g fill="#000">
<text class="lat" x="291" y="813" font-size="25" textLength="38" lengthAdjust="spacing">so2</text>
<text class="lat" x="369.5" y="813" font-size="25" textLength="41" lengthAdjust="spacing">no2</text>
<text class="lat" x="458" y="813" font-size="25" textLength="23.5" lengthAdjust="spacing">co</text>
<text class="lat" x="515" y="813" font-size="25" textLength="70" lengthAdjust="spacing">pm2.5</text>
<text class="lat" x="598" y="813" font-size="25" textLength="63" lengthAdjust="spacing">pm10</text>
<text class="lat" x="675" y="813" font-size="25" textLength="70" lengthAdjust="spacing">o3_1h</text>
<text class="lat" x="756.5" y="813" font-size="25" textLength="67" lengthAdjust="spacing">o3_8h</text>
</g>
<g fill="#000">
<text class="lat" x="172" y="44.3" font-size="25" textLength="53" lengthAdjust="spacing">2026</text>
<text class="cjk" x="228.5" y="43.0" font-size="24">年</text>
<text class="lat" x="252" y="44.3" font-size="25" textLength="25" lengthAdjust="spacing">04</text>
<text class="cjk" x="279" y="43.0" font-size="24">月</text>
<text class="lat" x="307" y="44.3" font-size="25" textLength="25" lengthAdjust="spacing">16</text>
<text class="cjk" x="335" y="42.0" font-size="20">日</text>
<text class="lat" x="357.5" y="44.3" font-size="25" textLength="45" lengthAdjust="spacingAndGlyphs">WRF</text>
<text class="lat" x="402" y="46.5" font-size="30" textLength="14" lengthAdjust="spacingAndGlyphs">/</text>
<text class="lat" x="418" y="44.3" font-size="25" textLength="63" lengthAdjust="spacing">cmaq</text>
<text class="cjk" x="483" y="43.0" font-size="24" textLength="46" lengthAdjust="spacing">模式</text>
<text class="lat" x="532" y="44.3" font-size="25" textLength="63" lengthAdjust="spacing">36km</text>
<text class="cjk" x="597" y="43.0" font-size="24" textLength="94" lengthAdjust="spacing">预报产品</text>
<text class="lat" x="691" y="44.3" font-size="25">:</text>
<text class="lat" x="702" y="44.3" font-size="25" textLength="25" lengthAdjust="spacing">04</text>
<text class="cjk" x="729" y="43.0" font-size="24">月</text>
<text class="lat" x="757" y="44.3" font-size="25" textLength="25" lengthAdjust="spacing">16</text>
<text class="cjk" x="785" y="42.0" font-size="20">日</text>
<text class="lat" x="807" y="44.3" font-size="25" textLength="25" lengthAdjust="spacing">06</text>
<text class="cjk" x="836" y="43.0" font-size="24">时</text>
<text class="lat" x="871" y="44.3" font-size="25" textLength="113" lengthAdjust="spacing" fill="#fa3c3c">PRIMARY</text>
</g>
<g fill="#000">
<text class="cjk" x="160" y="698.5" font-size="20.5" textLength="81" lengthAdjust="spacing">版权所有</text>
<text class="lat" x="243" y="698.5" font-size="20.5">:</text>
<text class="cjk" x="254" y="698.5" font-size="20.5" textLength="79" lengthAdjust="spacing">南京大学</text>
<rect x="334" y="678" width="1" height="29" shape-rendering="crispEdges"/>
<text class="cjk" x="345" y="698.5" font-size="20.5" textLength="201" lengthAdjust="spacing">南京创蓝科技有限公司</text>
</g>
</svg>
</body></html>
